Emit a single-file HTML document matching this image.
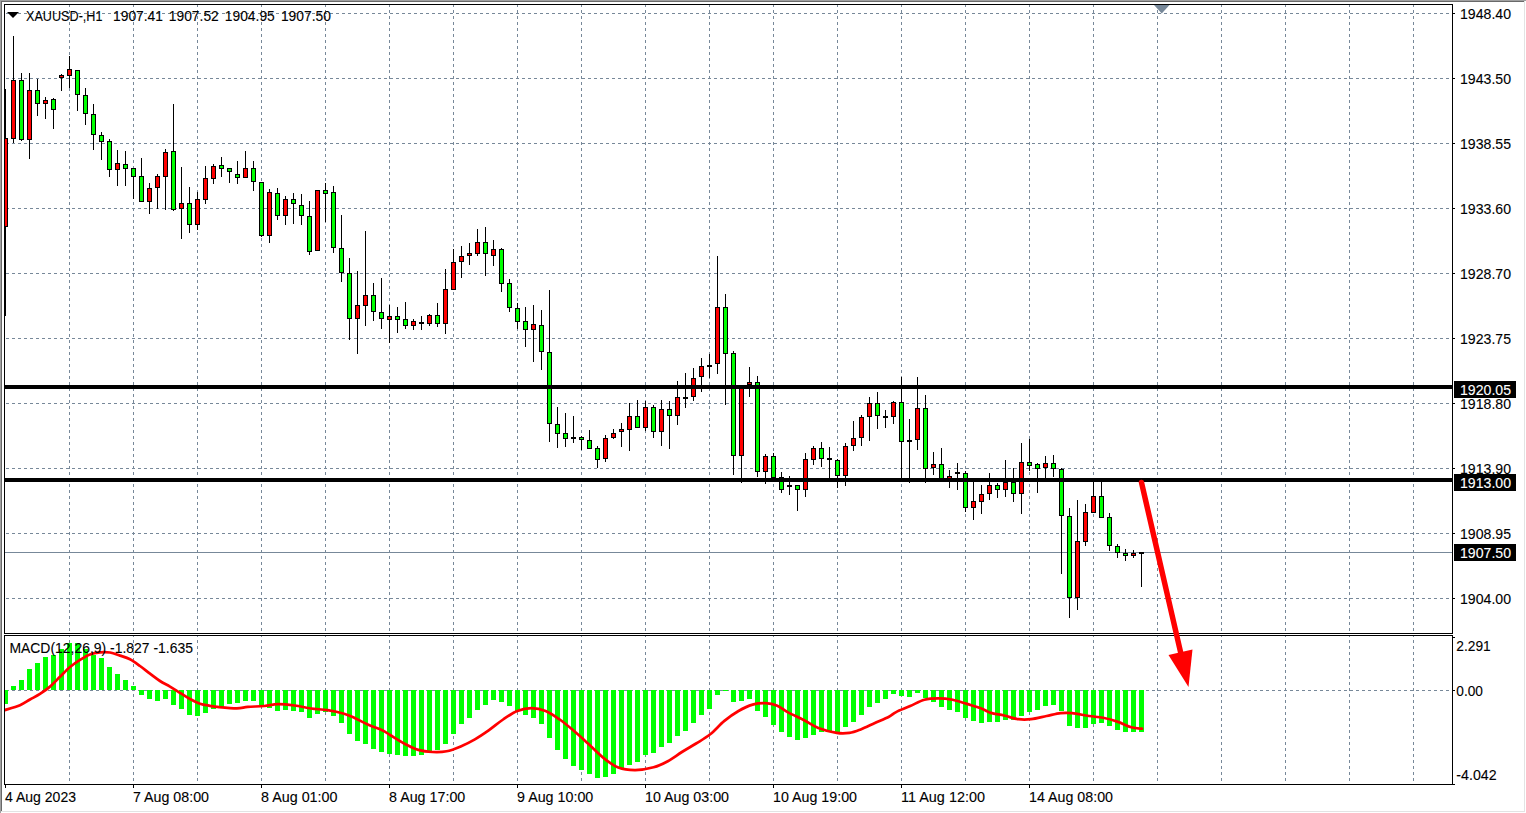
<!DOCTYPE html><html><head><meta charset="utf-8"><style>html,body{margin:0;padding:0;background:#fff;overflow:hidden}svg{display:block}text{font-family:"Liberation Sans",sans-serif}</style></head><body>
<svg width="1526" height="813" viewBox="0 0 1526 813">
<rect x="0" y="0" width="1526" height="813" fill="#ffffff"/>
<g shape-rendering="crispEdges">
<rect x="0" y="0" width="1526" height="1" fill="#a0a0a0"/>
<rect x="0" y="0" width="1" height="813" fill="#a0a0a0"/>
<rect x="1" y="1" width="1524" height="1" fill="#696969"/>
<rect x="1" y="1" width="1" height="811" fill="#696969"/>
<rect x="1524" y="1" width="1" height="811" fill="#e3e3e3"/>
<rect x="1" y="811" width="1524" height="1" fill="#e3e3e3"/>
<path d="M6 13h3v1h-3zM12 13h3v1h-3zM18 13h3v1h-3zM24 13h3v1h-3zM30 13h3v1h-3zM36 13h3v1h-3zM42 13h3v1h-3zM48 13h3v1h-3zM54 13h3v1h-3zM60 13h3v1h-3zM66 13h3v1h-3zM72 13h3v1h-3zM78 13h3v1h-3zM84 13h3v1h-3zM90 13h3v1h-3zM96 13h3v1h-3zM102 13h3v1h-3zM108 13h3v1h-3zM114 13h3v1h-3zM120 13h3v1h-3zM126 13h3v1h-3zM132 13h3v1h-3zM138 13h3v1h-3zM144 13h3v1h-3zM150 13h3v1h-3zM156 13h3v1h-3zM162 13h3v1h-3zM168 13h3v1h-3zM174 13h3v1h-3zM180 13h3v1h-3zM186 13h3v1h-3zM192 13h3v1h-3zM198 13h3v1h-3zM204 13h3v1h-3zM210 13h3v1h-3zM216 13h3v1h-3zM222 13h3v1h-3zM228 13h3v1h-3zM234 13h3v1h-3zM240 13h3v1h-3zM246 13h3v1h-3zM252 13h3v1h-3zM258 13h3v1h-3zM264 13h3v1h-3zM270 13h3v1h-3zM276 13h3v1h-3zM282 13h3v1h-3zM288 13h3v1h-3zM294 13h3v1h-3zM300 13h3v1h-3zM306 13h3v1h-3zM312 13h3v1h-3zM318 13h3v1h-3zM324 13h3v1h-3zM330 13h3v1h-3zM336 13h3v1h-3zM342 13h3v1h-3zM348 13h3v1h-3zM354 13h3v1h-3zM360 13h3v1h-3zM366 13h3v1h-3zM372 13h3v1h-3zM378 13h3v1h-3zM384 13h3v1h-3zM390 13h3v1h-3zM396 13h3v1h-3zM402 13h3v1h-3zM408 13h3v1h-3zM414 13h3v1h-3zM420 13h3v1h-3zM426 13h3v1h-3zM432 13h3v1h-3zM438 13h3v1h-3zM444 13h3v1h-3zM450 13h3v1h-3zM456 13h3v1h-3zM462 13h3v1h-3zM468 13h3v1h-3zM474 13h3v1h-3zM480 13h3v1h-3zM486 13h3v1h-3zM492 13h3v1h-3zM498 13h3v1h-3zM504 13h3v1h-3zM510 13h3v1h-3zM516 13h3v1h-3zM522 13h3v1h-3zM528 13h3v1h-3zM534 13h3v1h-3zM540 13h3v1h-3zM546 13h3v1h-3zM552 13h3v1h-3zM558 13h3v1h-3zM564 13h3v1h-3zM570 13h3v1h-3zM576 13h3v1h-3zM582 13h3v1h-3zM588 13h3v1h-3zM594 13h3v1h-3zM600 13h3v1h-3zM606 13h3v1h-3zM612 13h3v1h-3zM618 13h3v1h-3zM624 13h3v1h-3zM630 13h3v1h-3zM636 13h3v1h-3zM642 13h3v1h-3zM648 13h3v1h-3zM654 13h3v1h-3zM660 13h3v1h-3zM666 13h3v1h-3zM672 13h3v1h-3zM678 13h3v1h-3zM684 13h3v1h-3zM690 13h3v1h-3zM696 13h3v1h-3zM702 13h3v1h-3zM708 13h3v1h-3zM714 13h3v1h-3zM720 13h3v1h-3zM726 13h3v1h-3zM732 13h3v1h-3zM738 13h3v1h-3zM744 13h3v1h-3zM750 13h3v1h-3zM756 13h3v1h-3zM762 13h3v1h-3zM768 13h3v1h-3zM774 13h3v1h-3zM780 13h3v1h-3zM786 13h3v1h-3zM792 13h3v1h-3zM798 13h3v1h-3zM804 13h3v1h-3zM810 13h3v1h-3zM816 13h3v1h-3zM822 13h3v1h-3zM828 13h3v1h-3zM834 13h3v1h-3zM840 13h3v1h-3zM846 13h3v1h-3zM852 13h3v1h-3zM858 13h3v1h-3zM864 13h3v1h-3zM870 13h3v1h-3zM876 13h3v1h-3zM882 13h3v1h-3zM888 13h3v1h-3zM894 13h3v1h-3zM900 13h3v1h-3zM906 13h3v1h-3zM912 13h3v1h-3zM918 13h3v1h-3zM924 13h3v1h-3zM930 13h3v1h-3zM936 13h3v1h-3zM942 13h3v1h-3zM948 13h3v1h-3zM954 13h3v1h-3zM960 13h3v1h-3zM966 13h3v1h-3zM972 13h3v1h-3zM978 13h3v1h-3zM984 13h3v1h-3zM990 13h3v1h-3zM996 13h3v1h-3zM1002 13h3v1h-3zM1008 13h3v1h-3zM1014 13h3v1h-3zM1020 13h3v1h-3zM1026 13h3v1h-3zM1032 13h3v1h-3zM1038 13h3v1h-3zM1044 13h3v1h-3zM1050 13h3v1h-3zM1056 13h3v1h-3zM1062 13h3v1h-3zM1068 13h3v1h-3zM1074 13h3v1h-3zM1080 13h3v1h-3zM1086 13h3v1h-3zM1092 13h3v1h-3zM1098 13h3v1h-3zM1104 13h3v1h-3zM1110 13h3v1h-3zM1116 13h3v1h-3zM1122 13h3v1h-3zM1128 13h3v1h-3zM1134 13h3v1h-3zM1140 13h3v1h-3zM1146 13h3v1h-3zM1152 13h3v1h-3zM1158 13h3v1h-3zM1164 13h3v1h-3zM1170 13h3v1h-3zM1176 13h3v1h-3zM1182 13h3v1h-3zM1188 13h3v1h-3zM1194 13h3v1h-3zM1200 13h3v1h-3zM1206 13h3v1h-3zM1212 13h3v1h-3zM1218 13h3v1h-3zM1224 13h3v1h-3zM1230 13h3v1h-3zM1236 13h3v1h-3zM1242 13h3v1h-3zM1248 13h3v1h-3zM1254 13h3v1h-3zM1260 13h3v1h-3zM1266 13h3v1h-3zM1272 13h3v1h-3zM1278 13h3v1h-3zM1284 13h3v1h-3zM1290 13h3v1h-3zM1296 13h3v1h-3zM1302 13h3v1h-3zM1308 13h3v1h-3zM1314 13h3v1h-3zM1320 13h3v1h-3zM1326 13h3v1h-3zM1332 13h3v1h-3zM1338 13h3v1h-3zM1344 13h3v1h-3zM1350 13h3v1h-3zM1356 13h3v1h-3zM1362 13h3v1h-3zM1368 13h3v1h-3zM1374 13h3v1h-3zM1380 13h3v1h-3zM1386 13h3v1h-3zM1392 13h3v1h-3zM1398 13h3v1h-3zM1404 13h3v1h-3zM1410 13h3v1h-3zM1416 13h3v1h-3zM1422 13h3v1h-3zM1428 13h3v1h-3zM1434 13h3v1h-3zM1440 13h3v1h-3zM1446 13h3v1h-3zM6 78h3v1h-3zM12 78h3v1h-3zM18 78h3v1h-3zM24 78h3v1h-3zM30 78h3v1h-3zM36 78h3v1h-3zM42 78h3v1h-3zM48 78h3v1h-3zM54 78h3v1h-3zM60 78h3v1h-3zM66 78h3v1h-3zM72 78h3v1h-3zM78 78h3v1h-3zM84 78h3v1h-3zM90 78h3v1h-3zM96 78h3v1h-3zM102 78h3v1h-3zM108 78h3v1h-3zM114 78h3v1h-3zM120 78h3v1h-3zM126 78h3v1h-3zM132 78h3v1h-3zM138 78h3v1h-3zM144 78h3v1h-3zM150 78h3v1h-3zM156 78h3v1h-3zM162 78h3v1h-3zM168 78h3v1h-3zM174 78h3v1h-3zM180 78h3v1h-3zM186 78h3v1h-3zM192 78h3v1h-3zM198 78h3v1h-3zM204 78h3v1h-3zM210 78h3v1h-3zM216 78h3v1h-3zM222 78h3v1h-3zM228 78h3v1h-3zM234 78h3v1h-3zM240 78h3v1h-3zM246 78h3v1h-3zM252 78h3v1h-3zM258 78h3v1h-3zM264 78h3v1h-3zM270 78h3v1h-3zM276 78h3v1h-3zM282 78h3v1h-3zM288 78h3v1h-3zM294 78h3v1h-3zM300 78h3v1h-3zM306 78h3v1h-3zM312 78h3v1h-3zM318 78h3v1h-3zM324 78h3v1h-3zM330 78h3v1h-3zM336 78h3v1h-3zM342 78h3v1h-3zM348 78h3v1h-3zM354 78h3v1h-3zM360 78h3v1h-3zM366 78h3v1h-3zM372 78h3v1h-3zM378 78h3v1h-3zM384 78h3v1h-3zM390 78h3v1h-3zM396 78h3v1h-3zM402 78h3v1h-3zM408 78h3v1h-3zM414 78h3v1h-3zM420 78h3v1h-3zM426 78h3v1h-3zM432 78h3v1h-3zM438 78h3v1h-3zM444 78h3v1h-3zM450 78h3v1h-3zM456 78h3v1h-3zM462 78h3v1h-3zM468 78h3v1h-3zM474 78h3v1h-3zM480 78h3v1h-3zM486 78h3v1h-3zM492 78h3v1h-3zM498 78h3v1h-3zM504 78h3v1h-3zM510 78h3v1h-3zM516 78h3v1h-3zM522 78h3v1h-3zM528 78h3v1h-3zM534 78h3v1h-3zM540 78h3v1h-3zM546 78h3v1h-3zM552 78h3v1h-3zM558 78h3v1h-3zM564 78h3v1h-3zM570 78h3v1h-3zM576 78h3v1h-3zM582 78h3v1h-3zM588 78h3v1h-3zM594 78h3v1h-3zM600 78h3v1h-3zM606 78h3v1h-3zM612 78h3v1h-3zM618 78h3v1h-3zM624 78h3v1h-3zM630 78h3v1h-3zM636 78h3v1h-3zM642 78h3v1h-3zM648 78h3v1h-3zM654 78h3v1h-3zM660 78h3v1h-3zM666 78h3v1h-3zM672 78h3v1h-3zM678 78h3v1h-3zM684 78h3v1h-3zM690 78h3v1h-3zM696 78h3v1h-3zM702 78h3v1h-3zM708 78h3v1h-3zM714 78h3v1h-3zM720 78h3v1h-3zM726 78h3v1h-3zM732 78h3v1h-3zM738 78h3v1h-3zM744 78h3v1h-3zM750 78h3v1h-3zM756 78h3v1h-3zM762 78h3v1h-3zM768 78h3v1h-3zM774 78h3v1h-3zM780 78h3v1h-3zM786 78h3v1h-3zM792 78h3v1h-3zM798 78h3v1h-3zM804 78h3v1h-3zM810 78h3v1h-3zM816 78h3v1h-3zM822 78h3v1h-3zM828 78h3v1h-3zM834 78h3v1h-3zM840 78h3v1h-3zM846 78h3v1h-3zM852 78h3v1h-3zM858 78h3v1h-3zM864 78h3v1h-3zM870 78h3v1h-3zM876 78h3v1h-3zM882 78h3v1h-3zM888 78h3v1h-3zM894 78h3v1h-3zM900 78h3v1h-3zM906 78h3v1h-3zM912 78h3v1h-3zM918 78h3v1h-3zM924 78h3v1h-3zM930 78h3v1h-3zM936 78h3v1h-3zM942 78h3v1h-3zM948 78h3v1h-3zM954 78h3v1h-3zM960 78h3v1h-3zM966 78h3v1h-3zM972 78h3v1h-3zM978 78h3v1h-3zM984 78h3v1h-3zM990 78h3v1h-3zM996 78h3v1h-3zM1002 78h3v1h-3zM1008 78h3v1h-3zM1014 78h3v1h-3zM1020 78h3v1h-3zM1026 78h3v1h-3zM1032 78h3v1h-3zM1038 78h3v1h-3zM1044 78h3v1h-3zM1050 78h3v1h-3zM1056 78h3v1h-3zM1062 78h3v1h-3zM1068 78h3v1h-3zM1074 78h3v1h-3zM1080 78h3v1h-3zM1086 78h3v1h-3zM1092 78h3v1h-3zM1098 78h3v1h-3zM1104 78h3v1h-3zM1110 78h3v1h-3zM1116 78h3v1h-3zM1122 78h3v1h-3zM1128 78h3v1h-3zM1134 78h3v1h-3zM1140 78h3v1h-3zM1146 78h3v1h-3zM1152 78h3v1h-3zM1158 78h3v1h-3zM1164 78h3v1h-3zM1170 78h3v1h-3zM1176 78h3v1h-3zM1182 78h3v1h-3zM1188 78h3v1h-3zM1194 78h3v1h-3zM1200 78h3v1h-3zM1206 78h3v1h-3zM1212 78h3v1h-3zM1218 78h3v1h-3zM1224 78h3v1h-3zM1230 78h3v1h-3zM1236 78h3v1h-3zM1242 78h3v1h-3zM1248 78h3v1h-3zM1254 78h3v1h-3zM1260 78h3v1h-3zM1266 78h3v1h-3zM1272 78h3v1h-3zM1278 78h3v1h-3zM1284 78h3v1h-3zM1290 78h3v1h-3zM1296 78h3v1h-3zM1302 78h3v1h-3zM1308 78h3v1h-3zM1314 78h3v1h-3zM1320 78h3v1h-3zM1326 78h3v1h-3zM1332 78h3v1h-3zM1338 78h3v1h-3zM1344 78h3v1h-3zM1350 78h3v1h-3zM1356 78h3v1h-3zM1362 78h3v1h-3zM1368 78h3v1h-3zM1374 78h3v1h-3zM1380 78h3v1h-3zM1386 78h3v1h-3zM1392 78h3v1h-3zM1398 78h3v1h-3zM1404 78h3v1h-3zM1410 78h3v1h-3zM1416 78h3v1h-3zM1422 78h3v1h-3zM1428 78h3v1h-3zM1434 78h3v1h-3zM1440 78h3v1h-3zM1446 78h3v1h-3zM6 143h3v1h-3zM12 143h3v1h-3zM18 143h3v1h-3zM24 143h3v1h-3zM30 143h3v1h-3zM36 143h3v1h-3zM42 143h3v1h-3zM48 143h3v1h-3zM54 143h3v1h-3zM60 143h3v1h-3zM66 143h3v1h-3zM72 143h3v1h-3zM78 143h3v1h-3zM84 143h3v1h-3zM90 143h3v1h-3zM96 143h3v1h-3zM102 143h3v1h-3zM108 143h3v1h-3zM114 143h3v1h-3zM120 143h3v1h-3zM126 143h3v1h-3zM132 143h3v1h-3zM138 143h3v1h-3zM144 143h3v1h-3zM150 143h3v1h-3zM156 143h3v1h-3zM162 143h3v1h-3zM168 143h3v1h-3zM174 143h3v1h-3zM180 143h3v1h-3zM186 143h3v1h-3zM192 143h3v1h-3zM198 143h3v1h-3zM204 143h3v1h-3zM210 143h3v1h-3zM216 143h3v1h-3zM222 143h3v1h-3zM228 143h3v1h-3zM234 143h3v1h-3zM240 143h3v1h-3zM246 143h3v1h-3zM252 143h3v1h-3zM258 143h3v1h-3zM264 143h3v1h-3zM270 143h3v1h-3zM276 143h3v1h-3zM282 143h3v1h-3zM288 143h3v1h-3zM294 143h3v1h-3zM300 143h3v1h-3zM306 143h3v1h-3zM312 143h3v1h-3zM318 143h3v1h-3zM324 143h3v1h-3zM330 143h3v1h-3zM336 143h3v1h-3zM342 143h3v1h-3zM348 143h3v1h-3zM354 143h3v1h-3zM360 143h3v1h-3zM366 143h3v1h-3zM372 143h3v1h-3zM378 143h3v1h-3zM384 143h3v1h-3zM390 143h3v1h-3zM396 143h3v1h-3zM402 143h3v1h-3zM408 143h3v1h-3zM414 143h3v1h-3zM420 143h3v1h-3zM426 143h3v1h-3zM432 143h3v1h-3zM438 143h3v1h-3zM444 143h3v1h-3zM450 143h3v1h-3zM456 143h3v1h-3zM462 143h3v1h-3zM468 143h3v1h-3zM474 143h3v1h-3zM480 143h3v1h-3zM486 143h3v1h-3zM492 143h3v1h-3zM498 143h3v1h-3zM504 143h3v1h-3zM510 143h3v1h-3zM516 143h3v1h-3zM522 143h3v1h-3zM528 143h3v1h-3zM534 143h3v1h-3zM540 143h3v1h-3zM546 143h3v1h-3zM552 143h3v1h-3zM558 143h3v1h-3zM564 143h3v1h-3zM570 143h3v1h-3zM576 143h3v1h-3zM582 143h3v1h-3zM588 143h3v1h-3zM594 143h3v1h-3zM600 143h3v1h-3zM606 143h3v1h-3zM612 143h3v1h-3zM618 143h3v1h-3zM624 143h3v1h-3zM630 143h3v1h-3zM636 143h3v1h-3zM642 143h3v1h-3zM648 143h3v1h-3zM654 143h3v1h-3zM660 143h3v1h-3zM666 143h3v1h-3zM672 143h3v1h-3zM678 143h3v1h-3zM684 143h3v1h-3zM690 143h3v1h-3zM696 143h3v1h-3zM702 143h3v1h-3zM708 143h3v1h-3zM714 143h3v1h-3zM720 143h3v1h-3zM726 143h3v1h-3zM732 143h3v1h-3zM738 143h3v1h-3zM744 143h3v1h-3zM750 143h3v1h-3zM756 143h3v1h-3zM762 143h3v1h-3zM768 143h3v1h-3zM774 143h3v1h-3zM780 143h3v1h-3zM786 143h3v1h-3zM792 143h3v1h-3zM798 143h3v1h-3zM804 143h3v1h-3zM810 143h3v1h-3zM816 143h3v1h-3zM822 143h3v1h-3zM828 143h3v1h-3zM834 143h3v1h-3zM840 143h3v1h-3zM846 143h3v1h-3zM852 143h3v1h-3zM858 143h3v1h-3zM864 143h3v1h-3zM870 143h3v1h-3zM876 143h3v1h-3zM882 143h3v1h-3zM888 143h3v1h-3zM894 143h3v1h-3zM900 143h3v1h-3zM906 143h3v1h-3zM912 143h3v1h-3zM918 143h3v1h-3zM924 143h3v1h-3zM930 143h3v1h-3zM936 143h3v1h-3zM942 143h3v1h-3zM948 143h3v1h-3zM954 143h3v1h-3zM960 143h3v1h-3zM966 143h3v1h-3zM972 143h3v1h-3zM978 143h3v1h-3zM984 143h3v1h-3zM990 143h3v1h-3zM996 143h3v1h-3zM1002 143h3v1h-3zM1008 143h3v1h-3zM1014 143h3v1h-3zM1020 143h3v1h-3zM1026 143h3v1h-3zM1032 143h3v1h-3zM1038 143h3v1h-3zM1044 143h3v1h-3zM1050 143h3v1h-3zM1056 143h3v1h-3zM1062 143h3v1h-3zM1068 143h3v1h-3zM1074 143h3v1h-3zM1080 143h3v1h-3zM1086 143h3v1h-3zM1092 143h3v1h-3zM1098 143h3v1h-3zM1104 143h3v1h-3zM1110 143h3v1h-3zM1116 143h3v1h-3zM1122 143h3v1h-3zM1128 143h3v1h-3zM1134 143h3v1h-3zM1140 143h3v1h-3zM1146 143h3v1h-3zM1152 143h3v1h-3zM1158 143h3v1h-3zM1164 143h3v1h-3zM1170 143h3v1h-3zM1176 143h3v1h-3zM1182 143h3v1h-3zM1188 143h3v1h-3zM1194 143h3v1h-3zM1200 143h3v1h-3zM1206 143h3v1h-3zM1212 143h3v1h-3zM1218 143h3v1h-3zM1224 143h3v1h-3zM1230 143h3v1h-3zM1236 143h3v1h-3zM1242 143h3v1h-3zM1248 143h3v1h-3zM1254 143h3v1h-3zM1260 143h3v1h-3zM1266 143h3v1h-3zM1272 143h3v1h-3zM1278 143h3v1h-3zM1284 143h3v1h-3zM1290 143h3v1h-3zM1296 143h3v1h-3zM1302 143h3v1h-3zM1308 143h3v1h-3zM1314 143h3v1h-3zM1320 143h3v1h-3zM1326 143h3v1h-3zM1332 143h3v1h-3zM1338 143h3v1h-3zM1344 143h3v1h-3zM1350 143h3v1h-3zM1356 143h3v1h-3zM1362 143h3v1h-3zM1368 143h3v1h-3zM1374 143h3v1h-3zM1380 143h3v1h-3zM1386 143h3v1h-3zM1392 143h3v1h-3zM1398 143h3v1h-3zM1404 143h3v1h-3zM1410 143h3v1h-3zM1416 143h3v1h-3zM1422 143h3v1h-3zM1428 143h3v1h-3zM1434 143h3v1h-3zM1440 143h3v1h-3zM1446 143h3v1h-3zM6 208h3v1h-3zM12 208h3v1h-3zM18 208h3v1h-3zM24 208h3v1h-3zM30 208h3v1h-3zM36 208h3v1h-3zM42 208h3v1h-3zM48 208h3v1h-3zM54 208h3v1h-3zM60 208h3v1h-3zM66 208h3v1h-3zM72 208h3v1h-3zM78 208h3v1h-3zM84 208h3v1h-3zM90 208h3v1h-3zM96 208h3v1h-3zM102 208h3v1h-3zM108 208h3v1h-3zM114 208h3v1h-3zM120 208h3v1h-3zM126 208h3v1h-3zM132 208h3v1h-3zM138 208h3v1h-3zM144 208h3v1h-3zM150 208h3v1h-3zM156 208h3v1h-3zM162 208h3v1h-3zM168 208h3v1h-3zM174 208h3v1h-3zM180 208h3v1h-3zM186 208h3v1h-3zM192 208h3v1h-3zM198 208h3v1h-3zM204 208h3v1h-3zM210 208h3v1h-3zM216 208h3v1h-3zM222 208h3v1h-3zM228 208h3v1h-3zM234 208h3v1h-3zM240 208h3v1h-3zM246 208h3v1h-3zM252 208h3v1h-3zM258 208h3v1h-3zM264 208h3v1h-3zM270 208h3v1h-3zM276 208h3v1h-3zM282 208h3v1h-3zM288 208h3v1h-3zM294 208h3v1h-3zM300 208h3v1h-3zM306 208h3v1h-3zM312 208h3v1h-3zM318 208h3v1h-3zM324 208h3v1h-3zM330 208h3v1h-3zM336 208h3v1h-3zM342 208h3v1h-3zM348 208h3v1h-3zM354 208h3v1h-3zM360 208h3v1h-3zM366 208h3v1h-3zM372 208h3v1h-3zM378 208h3v1h-3zM384 208h3v1h-3zM390 208h3v1h-3zM396 208h3v1h-3zM402 208h3v1h-3zM408 208h3v1h-3zM414 208h3v1h-3zM420 208h3v1h-3zM426 208h3v1h-3zM432 208h3v1h-3zM438 208h3v1h-3zM444 208h3v1h-3zM450 208h3v1h-3zM456 208h3v1h-3zM462 208h3v1h-3zM468 208h3v1h-3zM474 208h3v1h-3zM480 208h3v1h-3zM486 208h3v1h-3zM492 208h3v1h-3zM498 208h3v1h-3zM504 208h3v1h-3zM510 208h3v1h-3zM516 208h3v1h-3zM522 208h3v1h-3zM528 208h3v1h-3zM534 208h3v1h-3zM540 208h3v1h-3zM546 208h3v1h-3zM552 208h3v1h-3zM558 208h3v1h-3zM564 208h3v1h-3zM570 208h3v1h-3zM576 208h3v1h-3zM582 208h3v1h-3zM588 208h3v1h-3zM594 208h3v1h-3zM600 208h3v1h-3zM606 208h3v1h-3zM612 208h3v1h-3zM618 208h3v1h-3zM624 208h3v1h-3zM630 208h3v1h-3zM636 208h3v1h-3zM642 208h3v1h-3zM648 208h3v1h-3zM654 208h3v1h-3zM660 208h3v1h-3zM666 208h3v1h-3zM672 208h3v1h-3zM678 208h3v1h-3zM684 208h3v1h-3zM690 208h3v1h-3zM696 208h3v1h-3zM702 208h3v1h-3zM708 208h3v1h-3zM714 208h3v1h-3zM720 208h3v1h-3zM726 208h3v1h-3zM732 208h3v1h-3zM738 208h3v1h-3zM744 208h3v1h-3zM750 208h3v1h-3zM756 208h3v1h-3zM762 208h3v1h-3zM768 208h3v1h-3zM774 208h3v1h-3zM780 208h3v1h-3zM786 208h3v1h-3zM792 208h3v1h-3zM798 208h3v1h-3zM804 208h3v1h-3zM810 208h3v1h-3zM816 208h3v1h-3zM822 208h3v1h-3zM828 208h3v1h-3zM834 208h3v1h-3zM840 208h3v1h-3zM846 208h3v1h-3zM852 208h3v1h-3zM858 208h3v1h-3zM864 208h3v1h-3zM870 208h3v1h-3zM876 208h3v1h-3zM882 208h3v1h-3zM888 208h3v1h-3zM894 208h3v1h-3zM900 208h3v1h-3zM906 208h3v1h-3zM912 208h3v1h-3zM918 208h3v1h-3zM924 208h3v1h-3zM930 208h3v1h-3zM936 208h3v1h-3zM942 208h3v1h-3zM948 208h3v1h-3zM954 208h3v1h-3zM960 208h3v1h-3zM966 208h3v1h-3zM972 208h3v1h-3zM978 208h3v1h-3zM984 208h3v1h-3zM990 208h3v1h-3zM996 208h3v1h-3zM1002 208h3v1h-3zM1008 208h3v1h-3zM1014 208h3v1h-3zM1020 208h3v1h-3zM1026 208h3v1h-3zM1032 208h3v1h-3zM1038 208h3v1h-3zM1044 208h3v1h-3zM1050 208h3v1h-3zM1056 208h3v1h-3zM1062 208h3v1h-3zM1068 208h3v1h-3zM1074 208h3v1h-3zM1080 208h3v1h-3zM1086 208h3v1h-3zM1092 208h3v1h-3zM1098 208h3v1h-3zM1104 208h3v1h-3zM1110 208h3v1h-3zM1116 208h3v1h-3zM1122 208h3v1h-3zM1128 208h3v1h-3zM1134 208h3v1h-3zM1140 208h3v1h-3zM1146 208h3v1h-3zM1152 208h3v1h-3zM1158 208h3v1h-3zM1164 208h3v1h-3zM1170 208h3v1h-3zM1176 208h3v1h-3zM1182 208h3v1h-3zM1188 208h3v1h-3zM1194 208h3v1h-3zM1200 208h3v1h-3zM1206 208h3v1h-3zM1212 208h3v1h-3zM1218 208h3v1h-3zM1224 208h3v1h-3zM1230 208h3v1h-3zM1236 208h3v1h-3zM1242 208h3v1h-3zM1248 208h3v1h-3zM1254 208h3v1h-3zM1260 208h3v1h-3zM1266 208h3v1h-3zM1272 208h3v1h-3zM1278 208h3v1h-3zM1284 208h3v1h-3zM1290 208h3v1h-3zM1296 208h3v1h-3zM1302 208h3v1h-3zM1308 208h3v1h-3zM1314 208h3v1h-3zM1320 208h3v1h-3zM1326 208h3v1h-3zM1332 208h3v1h-3zM1338 208h3v1h-3zM1344 208h3v1h-3zM1350 208h3v1h-3zM1356 208h3v1h-3zM1362 208h3v1h-3zM1368 208h3v1h-3zM1374 208h3v1h-3zM1380 208h3v1h-3zM1386 208h3v1h-3zM1392 208h3v1h-3zM1398 208h3v1h-3zM1404 208h3v1h-3zM1410 208h3v1h-3zM1416 208h3v1h-3zM1422 208h3v1h-3zM1428 208h3v1h-3zM1434 208h3v1h-3zM1440 208h3v1h-3zM1446 208h3v1h-3zM6 273h3v1h-3zM12 273h3v1h-3zM18 273h3v1h-3zM24 273h3v1h-3zM30 273h3v1h-3zM36 273h3v1h-3zM42 273h3v1h-3zM48 273h3v1h-3zM54 273h3v1h-3zM60 273h3v1h-3zM66 273h3v1h-3zM72 273h3v1h-3zM78 273h3v1h-3zM84 273h3v1h-3zM90 273h3v1h-3zM96 273h3v1h-3zM102 273h3v1h-3zM108 273h3v1h-3zM114 273h3v1h-3zM120 273h3v1h-3zM126 273h3v1h-3zM132 273h3v1h-3zM138 273h3v1h-3zM144 273h3v1h-3zM150 273h3v1h-3zM156 273h3v1h-3zM162 273h3v1h-3zM168 273h3v1h-3zM174 273h3v1h-3zM180 273h3v1h-3zM186 273h3v1h-3zM192 273h3v1h-3zM198 273h3v1h-3zM204 273h3v1h-3zM210 273h3v1h-3zM216 273h3v1h-3zM222 273h3v1h-3zM228 273h3v1h-3zM234 273h3v1h-3zM240 273h3v1h-3zM246 273h3v1h-3zM252 273h3v1h-3zM258 273h3v1h-3zM264 273h3v1h-3zM270 273h3v1h-3zM276 273h3v1h-3zM282 273h3v1h-3zM288 273h3v1h-3zM294 273h3v1h-3zM300 273h3v1h-3zM306 273h3v1h-3zM312 273h3v1h-3zM318 273h3v1h-3zM324 273h3v1h-3zM330 273h3v1h-3zM336 273h3v1h-3zM342 273h3v1h-3zM348 273h3v1h-3zM354 273h3v1h-3zM360 273h3v1h-3zM366 273h3v1h-3zM372 273h3v1h-3zM378 273h3v1h-3zM384 273h3v1h-3zM390 273h3v1h-3zM396 273h3v1h-3zM402 273h3v1h-3zM408 273h3v1h-3zM414 273h3v1h-3zM420 273h3v1h-3zM426 273h3v1h-3zM432 273h3v1h-3zM438 273h3v1h-3zM444 273h3v1h-3zM450 273h3v1h-3zM456 273h3v1h-3zM462 273h3v1h-3zM468 273h3v1h-3zM474 273h3v1h-3zM480 273h3v1h-3zM486 273h3v1h-3zM492 273h3v1h-3zM498 273h3v1h-3zM504 273h3v1h-3zM510 273h3v1h-3zM516 273h3v1h-3zM522 273h3v1h-3zM528 273h3v1h-3zM534 273h3v1h-3zM540 273h3v1h-3zM546 273h3v1h-3zM552 273h3v1h-3zM558 273h3v1h-3zM564 273h3v1h-3zM570 273h3v1h-3zM576 273h3v1h-3zM582 273h3v1h-3zM588 273h3v1h-3zM594 273h3v1h-3zM600 273h3v1h-3zM606 273h3v1h-3zM612 273h3v1h-3zM618 273h3v1h-3zM624 273h3v1h-3zM630 273h3v1h-3zM636 273h3v1h-3zM642 273h3v1h-3zM648 273h3v1h-3zM654 273h3v1h-3zM660 273h3v1h-3zM666 273h3v1h-3zM672 273h3v1h-3zM678 273h3v1h-3zM684 273h3v1h-3zM690 273h3v1h-3zM696 273h3v1h-3zM702 273h3v1h-3zM708 273h3v1h-3zM714 273h3v1h-3zM720 273h3v1h-3zM726 273h3v1h-3zM732 273h3v1h-3zM738 273h3v1h-3zM744 273h3v1h-3zM750 273h3v1h-3zM756 273h3v1h-3zM762 273h3v1h-3zM768 273h3v1h-3zM774 273h3v1h-3zM780 273h3v1h-3zM786 273h3v1h-3zM792 273h3v1h-3zM798 273h3v1h-3zM804 273h3v1h-3zM810 273h3v1h-3zM816 273h3v1h-3zM822 273h3v1h-3zM828 273h3v1h-3zM834 273h3v1h-3zM840 273h3v1h-3zM846 273h3v1h-3zM852 273h3v1h-3zM858 273h3v1h-3zM864 273h3v1h-3zM870 273h3v1h-3zM876 273h3v1h-3zM882 273h3v1h-3zM888 273h3v1h-3zM894 273h3v1h-3zM900 273h3v1h-3zM906 273h3v1h-3zM912 273h3v1h-3zM918 273h3v1h-3zM924 273h3v1h-3zM930 273h3v1h-3zM936 273h3v1h-3zM942 273h3v1h-3zM948 273h3v1h-3zM954 273h3v1h-3zM960 273h3v1h-3zM966 273h3v1h-3zM972 273h3v1h-3zM978 273h3v1h-3zM984 273h3v1h-3zM990 273h3v1h-3zM996 273h3v1h-3zM1002 273h3v1h-3zM1008 273h3v1h-3zM1014 273h3v1h-3zM1020 273h3v1h-3zM1026 273h3v1h-3zM1032 273h3v1h-3zM1038 273h3v1h-3zM1044 273h3v1h-3zM1050 273h3v1h-3zM1056 273h3v1h-3zM1062 273h3v1h-3zM1068 273h3v1h-3zM1074 273h3v1h-3zM1080 273h3v1h-3zM1086 273h3v1h-3zM1092 273h3v1h-3zM1098 273h3v1h-3zM1104 273h3v1h-3zM1110 273h3v1h-3zM1116 273h3v1h-3zM1122 273h3v1h-3zM1128 273h3v1h-3zM1134 273h3v1h-3zM1140 273h3v1h-3zM1146 273h3v1h-3zM1152 273h3v1h-3zM1158 273h3v1h-3zM1164 273h3v1h-3zM1170 273h3v1h-3zM1176 273h3v1h-3zM1182 273h3v1h-3zM1188 273h3v1h-3zM1194 273h3v1h-3zM1200 273h3v1h-3zM1206 273h3v1h-3zM1212 273h3v1h-3zM1218 273h3v1h-3zM1224 273h3v1h-3zM1230 273h3v1h-3zM1236 273h3v1h-3zM1242 273h3v1h-3zM1248 273h3v1h-3zM1254 273h3v1h-3zM1260 273h3v1h-3zM1266 273h3v1h-3zM1272 273h3v1h-3zM1278 273h3v1h-3zM1284 273h3v1h-3zM1290 273h3v1h-3zM1296 273h3v1h-3zM1302 273h3v1h-3zM1308 273h3v1h-3zM1314 273h3v1h-3zM1320 273h3v1h-3zM1326 273h3v1h-3zM1332 273h3v1h-3zM1338 273h3v1h-3zM1344 273h3v1h-3zM1350 273h3v1h-3zM1356 273h3v1h-3zM1362 273h3v1h-3zM1368 273h3v1h-3zM1374 273h3v1h-3zM1380 273h3v1h-3zM1386 273h3v1h-3zM1392 273h3v1h-3zM1398 273h3v1h-3zM1404 273h3v1h-3zM1410 273h3v1h-3zM1416 273h3v1h-3zM1422 273h3v1h-3zM1428 273h3v1h-3zM1434 273h3v1h-3zM1440 273h3v1h-3zM1446 273h3v1h-3zM6 338h3v1h-3zM12 338h3v1h-3zM18 338h3v1h-3zM24 338h3v1h-3zM30 338h3v1h-3zM36 338h3v1h-3zM42 338h3v1h-3zM48 338h3v1h-3zM54 338h3v1h-3zM60 338h3v1h-3zM66 338h3v1h-3zM72 338h3v1h-3zM78 338h3v1h-3zM84 338h3v1h-3zM90 338h3v1h-3zM96 338h3v1h-3zM102 338h3v1h-3zM108 338h3v1h-3zM114 338h3v1h-3zM120 338h3v1h-3zM126 338h3v1h-3zM132 338h3v1h-3zM138 338h3v1h-3zM144 338h3v1h-3zM150 338h3v1h-3zM156 338h3v1h-3zM162 338h3v1h-3zM168 338h3v1h-3zM174 338h3v1h-3zM180 338h3v1h-3zM186 338h3v1h-3zM192 338h3v1h-3zM198 338h3v1h-3zM204 338h3v1h-3zM210 338h3v1h-3zM216 338h3v1h-3zM222 338h3v1h-3zM228 338h3v1h-3zM234 338h3v1h-3zM240 338h3v1h-3zM246 338h3v1h-3zM252 338h3v1h-3zM258 338h3v1h-3zM264 338h3v1h-3zM270 338h3v1h-3zM276 338h3v1h-3zM282 338h3v1h-3zM288 338h3v1h-3zM294 338h3v1h-3zM300 338h3v1h-3zM306 338h3v1h-3zM312 338h3v1h-3zM318 338h3v1h-3zM324 338h3v1h-3zM330 338h3v1h-3zM336 338h3v1h-3zM342 338h3v1h-3zM348 338h3v1h-3zM354 338h3v1h-3zM360 338h3v1h-3zM366 338h3v1h-3zM372 338h3v1h-3zM378 338h3v1h-3zM384 338h3v1h-3zM390 338h3v1h-3zM396 338h3v1h-3zM402 338h3v1h-3zM408 338h3v1h-3zM414 338h3v1h-3zM420 338h3v1h-3zM426 338h3v1h-3zM432 338h3v1h-3zM438 338h3v1h-3zM444 338h3v1h-3zM450 338h3v1h-3zM456 338h3v1h-3zM462 338h3v1h-3zM468 338h3v1h-3zM474 338h3v1h-3zM480 338h3v1h-3zM486 338h3v1h-3zM492 338h3v1h-3zM498 338h3v1h-3zM504 338h3v1h-3zM510 338h3v1h-3zM516 338h3v1h-3zM522 338h3v1h-3zM528 338h3v1h-3zM534 338h3v1h-3zM540 338h3v1h-3zM546 338h3v1h-3zM552 338h3v1h-3zM558 338h3v1h-3zM564 338h3v1h-3zM570 338h3v1h-3zM576 338h3v1h-3zM582 338h3v1h-3zM588 338h3v1h-3zM594 338h3v1h-3zM600 338h3v1h-3zM606 338h3v1h-3zM612 338h3v1h-3zM618 338h3v1h-3zM624 338h3v1h-3zM630 338h3v1h-3zM636 338h3v1h-3zM642 338h3v1h-3zM648 338h3v1h-3zM654 338h3v1h-3zM660 338h3v1h-3zM666 338h3v1h-3zM672 338h3v1h-3zM678 338h3v1h-3zM684 338h3v1h-3zM690 338h3v1h-3zM696 338h3v1h-3zM702 338h3v1h-3zM708 338h3v1h-3zM714 338h3v1h-3zM720 338h3v1h-3zM726 338h3v1h-3zM732 338h3v1h-3zM738 338h3v1h-3zM744 338h3v1h-3zM750 338h3v1h-3zM756 338h3v1h-3zM762 338h3v1h-3zM768 338h3v1h-3zM774 338h3v1h-3zM780 338h3v1h-3zM786 338h3v1h-3zM792 338h3v1h-3zM798 338h3v1h-3zM804 338h3v1h-3zM810 338h3v1h-3zM816 338h3v1h-3zM822 338h3v1h-3zM828 338h3v1h-3zM834 338h3v1h-3zM840 338h3v1h-3zM846 338h3v1h-3zM852 338h3v1h-3zM858 338h3v1h-3zM864 338h3v1h-3zM870 338h3v1h-3zM876 338h3v1h-3zM882 338h3v1h-3zM888 338h3v1h-3zM894 338h3v1h-3zM900 338h3v1h-3zM906 338h3v1h-3zM912 338h3v1h-3zM918 338h3v1h-3zM924 338h3v1h-3zM930 338h3v1h-3zM936 338h3v1h-3zM942 338h3v1h-3zM948 338h3v1h-3zM954 338h3v1h-3zM960 338h3v1h-3zM966 338h3v1h-3zM972 338h3v1h-3zM978 338h3v1h-3zM984 338h3v1h-3zM990 338h3v1h-3zM996 338h3v1h-3zM1002 338h3v1h-3zM1008 338h3v1h-3zM1014 338h3v1h-3zM1020 338h3v1h-3zM1026 338h3v1h-3zM1032 338h3v1h-3zM1038 338h3v1h-3zM1044 338h3v1h-3zM1050 338h3v1h-3zM1056 338h3v1h-3zM1062 338h3v1h-3zM1068 338h3v1h-3zM1074 338h3v1h-3zM1080 338h3v1h-3zM1086 338h3v1h-3zM1092 338h3v1h-3zM1098 338h3v1h-3zM1104 338h3v1h-3zM1110 338h3v1h-3zM1116 338h3v1h-3zM1122 338h3v1h-3zM1128 338h3v1h-3zM1134 338h3v1h-3zM1140 338h3v1h-3zM1146 338h3v1h-3zM1152 338h3v1h-3zM1158 338h3v1h-3zM1164 338h3v1h-3zM1170 338h3v1h-3zM1176 338h3v1h-3zM1182 338h3v1h-3zM1188 338h3v1h-3zM1194 338h3v1h-3zM1200 338h3v1h-3zM1206 338h3v1h-3zM1212 338h3v1h-3zM1218 338h3v1h-3zM1224 338h3v1h-3zM1230 338h3v1h-3zM1236 338h3v1h-3zM1242 338h3v1h-3zM1248 338h3v1h-3zM1254 338h3v1h-3zM1260 338h3v1h-3zM1266 338h3v1h-3zM1272 338h3v1h-3zM1278 338h3v1h-3zM1284 338h3v1h-3zM1290 338h3v1h-3zM1296 338h3v1h-3zM1302 338h3v1h-3zM1308 338h3v1h-3zM1314 338h3v1h-3zM1320 338h3v1h-3zM1326 338h3v1h-3zM1332 338h3v1h-3zM1338 338h3v1h-3zM1344 338h3v1h-3zM1350 338h3v1h-3zM1356 338h3v1h-3zM1362 338h3v1h-3zM1368 338h3v1h-3zM1374 338h3v1h-3zM1380 338h3v1h-3zM1386 338h3v1h-3zM1392 338h3v1h-3zM1398 338h3v1h-3zM1404 338h3v1h-3zM1410 338h3v1h-3zM1416 338h3v1h-3zM1422 338h3v1h-3zM1428 338h3v1h-3zM1434 338h3v1h-3zM1440 338h3v1h-3zM1446 338h3v1h-3zM6 403h3v1h-3zM12 403h3v1h-3zM18 403h3v1h-3zM24 403h3v1h-3zM30 403h3v1h-3zM36 403h3v1h-3zM42 403h3v1h-3zM48 403h3v1h-3zM54 403h3v1h-3zM60 403h3v1h-3zM66 403h3v1h-3zM72 403h3v1h-3zM78 403h3v1h-3zM84 403h3v1h-3zM90 403h3v1h-3zM96 403h3v1h-3zM102 403h3v1h-3zM108 403h3v1h-3zM114 403h3v1h-3zM120 403h3v1h-3zM126 403h3v1h-3zM132 403h3v1h-3zM138 403h3v1h-3zM144 403h3v1h-3zM150 403h3v1h-3zM156 403h3v1h-3zM162 403h3v1h-3zM168 403h3v1h-3zM174 403h3v1h-3zM180 403h3v1h-3zM186 403h3v1h-3zM192 403h3v1h-3zM198 403h3v1h-3zM204 403h3v1h-3zM210 403h3v1h-3zM216 403h3v1h-3zM222 403h3v1h-3zM228 403h3v1h-3zM234 403h3v1h-3zM240 403h3v1h-3zM246 403h3v1h-3zM252 403h3v1h-3zM258 403h3v1h-3zM264 403h3v1h-3zM270 403h3v1h-3zM276 403h3v1h-3zM282 403h3v1h-3zM288 403h3v1h-3zM294 403h3v1h-3zM300 403h3v1h-3zM306 403h3v1h-3zM312 403h3v1h-3zM318 403h3v1h-3zM324 403h3v1h-3zM330 403h3v1h-3zM336 403h3v1h-3zM342 403h3v1h-3zM348 403h3v1h-3zM354 403h3v1h-3zM360 403h3v1h-3zM366 403h3v1h-3zM372 403h3v1h-3zM378 403h3v1h-3zM384 403h3v1h-3zM390 403h3v1h-3zM396 403h3v1h-3zM402 403h3v1h-3zM408 403h3v1h-3zM414 403h3v1h-3zM420 403h3v1h-3zM426 403h3v1h-3zM432 403h3v1h-3zM438 403h3v1h-3zM444 403h3v1h-3zM450 403h3v1h-3zM456 403h3v1h-3zM462 403h3v1h-3zM468 403h3v1h-3zM474 403h3v1h-3zM480 403h3v1h-3zM486 403h3v1h-3zM492 403h3v1h-3zM498 403h3v1h-3zM504 403h3v1h-3zM510 403h3v1h-3zM516 403h3v1h-3zM522 403h3v1h-3zM528 403h3v1h-3zM534 403h3v1h-3zM540 403h3v1h-3zM546 403h3v1h-3zM552 403h3v1h-3zM558 403h3v1h-3zM564 403h3v1h-3zM570 403h3v1h-3zM576 403h3v1h-3zM582 403h3v1h-3zM588 403h3v1h-3zM594 403h3v1h-3zM600 403h3v1h-3zM606 403h3v1h-3zM612 403h3v1h-3zM618 403h3v1h-3zM624 403h3v1h-3zM630 403h3v1h-3zM636 403h3v1h-3zM642 403h3v1h-3zM648 403h3v1h-3zM654 403h3v1h-3zM660 403h3v1h-3zM666 403h3v1h-3zM672 403h3v1h-3zM678 403h3v1h-3zM684 403h3v1h-3zM690 403h3v1h-3zM696 403h3v1h-3zM702 403h3v1h-3zM708 403h3v1h-3zM714 403h3v1h-3zM720 403h3v1h-3zM726 403h3v1h-3zM732 403h3v1h-3zM738 403h3v1h-3zM744 403h3v1h-3zM750 403h3v1h-3zM756 403h3v1h-3zM762 403h3v1h-3zM768 403h3v1h-3zM774 403h3v1h-3zM780 403h3v1h-3zM786 403h3v1h-3zM792 403h3v1h-3zM798 403h3v1h-3zM804 403h3v1h-3zM810 403h3v1h-3zM816 403h3v1h-3zM822 403h3v1h-3zM828 403h3v1h-3zM834 403h3v1h-3zM840 403h3v1h-3zM846 403h3v1h-3zM852 403h3v1h-3zM858 403h3v1h-3zM864 403h3v1h-3zM870 403h3v1h-3zM876 403h3v1h-3zM882 403h3v1h-3zM888 403h3v1h-3zM894 403h3v1h-3zM900 403h3v1h-3zM906 403h3v1h-3zM912 403h3v1h-3zM918 403h3v1h-3zM924 403h3v1h-3zM930 403h3v1h-3zM936 403h3v1h-3zM942 403h3v1h-3zM948 403h3v1h-3zM954 403h3v1h-3zM960 403h3v1h-3zM966 403h3v1h-3zM972 403h3v1h-3zM978 403h3v1h-3zM984 403h3v1h-3zM990 403h3v1h-3zM996 403h3v1h-3zM1002 403h3v1h-3zM1008 403h3v1h-3zM1014 403h3v1h-3zM1020 403h3v1h-3zM1026 403h3v1h-3zM1032 403h3v1h-3zM1038 403h3v1h-3zM1044 403h3v1h-3zM1050 403h3v1h-3zM1056 403h3v1h-3zM1062 403h3v1h-3zM1068 403h3v1h-3zM1074 403h3v1h-3zM1080 403h3v1h-3zM1086 403h3v1h-3zM1092 403h3v1h-3zM1098 403h3v1h-3zM1104 403h3v1h-3zM1110 403h3v1h-3zM1116 403h3v1h-3zM1122 403h3v1h-3zM1128 403h3v1h-3zM1134 403h3v1h-3zM1140 403h3v1h-3zM1146 403h3v1h-3zM1152 403h3v1h-3zM1158 403h3v1h-3zM1164 403h3v1h-3zM1170 403h3v1h-3zM1176 403h3v1h-3zM1182 403h3v1h-3zM1188 403h3v1h-3zM1194 403h3v1h-3zM1200 403h3v1h-3zM1206 403h3v1h-3zM1212 403h3v1h-3zM1218 403h3v1h-3zM1224 403h3v1h-3zM1230 403h3v1h-3zM1236 403h3v1h-3zM1242 403h3v1h-3zM1248 403h3v1h-3zM1254 403h3v1h-3zM1260 403h3v1h-3zM1266 403h3v1h-3zM1272 403h3v1h-3zM1278 403h3v1h-3zM1284 403h3v1h-3zM1290 403h3v1h-3zM1296 403h3v1h-3zM1302 403h3v1h-3zM1308 403h3v1h-3zM1314 403h3v1h-3zM1320 403h3v1h-3zM1326 403h3v1h-3zM1332 403h3v1h-3zM1338 403h3v1h-3zM1344 403h3v1h-3zM1350 403h3v1h-3zM1356 403h3v1h-3zM1362 403h3v1h-3zM1368 403h3v1h-3zM1374 403h3v1h-3zM1380 403h3v1h-3zM1386 403h3v1h-3zM1392 403h3v1h-3zM1398 403h3v1h-3zM1404 403h3v1h-3zM1410 403h3v1h-3zM1416 403h3v1h-3zM1422 403h3v1h-3zM1428 403h3v1h-3zM1434 403h3v1h-3zM1440 403h3v1h-3zM1446 403h3v1h-3zM6 468h3v1h-3zM12 468h3v1h-3zM18 468h3v1h-3zM24 468h3v1h-3zM30 468h3v1h-3zM36 468h3v1h-3zM42 468h3v1h-3zM48 468h3v1h-3zM54 468h3v1h-3zM60 468h3v1h-3zM66 468h3v1h-3zM72 468h3v1h-3zM78 468h3v1h-3zM84 468h3v1h-3zM90 468h3v1h-3zM96 468h3v1h-3zM102 468h3v1h-3zM108 468h3v1h-3zM114 468h3v1h-3zM120 468h3v1h-3zM126 468h3v1h-3zM132 468h3v1h-3zM138 468h3v1h-3zM144 468h3v1h-3zM150 468h3v1h-3zM156 468h3v1h-3zM162 468h3v1h-3zM168 468h3v1h-3zM174 468h3v1h-3zM180 468h3v1h-3zM186 468h3v1h-3zM192 468h3v1h-3zM198 468h3v1h-3zM204 468h3v1h-3zM210 468h3v1h-3zM216 468h3v1h-3zM222 468h3v1h-3zM228 468h3v1h-3zM234 468h3v1h-3zM240 468h3v1h-3zM246 468h3v1h-3zM252 468h3v1h-3zM258 468h3v1h-3zM264 468h3v1h-3zM270 468h3v1h-3zM276 468h3v1h-3zM282 468h3v1h-3zM288 468h3v1h-3zM294 468h3v1h-3zM300 468h3v1h-3zM306 468h3v1h-3zM312 468h3v1h-3zM318 468h3v1h-3zM324 468h3v1h-3zM330 468h3v1h-3zM336 468h3v1h-3zM342 468h3v1h-3zM348 468h3v1h-3zM354 468h3v1h-3zM360 468h3v1h-3zM366 468h3v1h-3zM372 468h3v1h-3zM378 468h3v1h-3zM384 468h3v1h-3zM390 468h3v1h-3zM396 468h3v1h-3zM402 468h3v1h-3zM408 468h3v1h-3zM414 468h3v1h-3zM420 468h3v1h-3zM426 468h3v1h-3zM432 468h3v1h-3zM438 468h3v1h-3zM444 468h3v1h-3zM450 468h3v1h-3zM456 468h3v1h-3zM462 468h3v1h-3zM468 468h3v1h-3zM474 468h3v1h-3zM480 468h3v1h-3zM486 468h3v1h-3zM492 468h3v1h-3zM498 468h3v1h-3zM504 468h3v1h-3zM510 468h3v1h-3zM516 468h3v1h-3zM522 468h3v1h-3zM528 468h3v1h-3zM534 468h3v1h-3zM540 468h3v1h-3zM546 468h3v1h-3zM552 468h3v1h-3zM558 468h3v1h-3zM564 468h3v1h-3zM570 468h3v1h-3zM576 468h3v1h-3zM582 468h3v1h-3zM588 468h3v1h-3zM594 468h3v1h-3zM600 468h3v1h-3zM606 468h3v1h-3zM612 468h3v1h-3zM618 468h3v1h-3zM624 468h3v1h-3zM630 468h3v1h-3zM636 468h3v1h-3zM642 468h3v1h-3zM648 468h3v1h-3zM654 468h3v1h-3zM660 468h3v1h-3zM666 468h3v1h-3zM672 468h3v1h-3zM678 468h3v1h-3zM684 468h3v1h-3zM690 468h3v1h-3zM696 468h3v1h-3zM702 468h3v1h-3zM708 468h3v1h-3zM714 468h3v1h-3zM720 468h3v1h-3zM726 468h3v1h-3zM732 468h3v1h-3zM738 468h3v1h-3zM744 468h3v1h-3zM750 468h3v1h-3zM756 468h3v1h-3zM762 468h3v1h-3zM768 468h3v1h-3zM774 468h3v1h-3zM780 468h3v1h-3zM786 468h3v1h-3zM792 468h3v1h-3zM798 468h3v1h-3zM804 468h3v1h-3zM810 468h3v1h-3zM816 468h3v1h-3zM822 468h3v1h-3zM828 468h3v1h-3zM834 468h3v1h-3zM840 468h3v1h-3zM846 468h3v1h-3zM852 468h3v1h-3zM858 468h3v1h-3zM864 468h3v1h-3zM870 468h3v1h-3zM876 468h3v1h-3zM882 468h3v1h-3zM888 468h3v1h-3zM894 468h3v1h-3zM900 468h3v1h-3zM906 468h3v1h-3zM912 468h3v1h-3zM918 468h3v1h-3zM924 468h3v1h-3zM930 468h3v1h-3zM936 468h3v1h-3zM942 468h3v1h-3zM948 468h3v1h-3zM954 468h3v1h-3zM960 468h3v1h-3zM966 468h3v1h-3zM972 468h3v1h-3zM978 468h3v1h-3zM984 468h3v1h-3zM990 468h3v1h-3zM996 468h3v1h-3zM1002 468h3v1h-3zM1008 468h3v1h-3zM1014 468h3v1h-3zM1020 468h3v1h-3zM1026 468h3v1h-3zM1032 468h3v1h-3zM1038 468h3v1h-3zM1044 468h3v1h-3zM1050 468h3v1h-3zM1056 468h3v1h-3zM1062 468h3v1h-3zM1068 468h3v1h-3zM1074 468h3v1h-3zM1080 468h3v1h-3zM1086 468h3v1h-3zM1092 468h3v1h-3zM1098 468h3v1h-3zM1104 468h3v1h-3zM1110 468h3v1h-3zM1116 468h3v1h-3zM1122 468h3v1h-3zM1128 468h3v1h-3zM1134 468h3v1h-3zM1140 468h3v1h-3zM1146 468h3v1h-3zM1152 468h3v1h-3zM1158 468h3v1h-3zM1164 468h3v1h-3zM1170 468h3v1h-3zM1176 468h3v1h-3zM1182 468h3v1h-3zM1188 468h3v1h-3zM1194 468h3v1h-3zM1200 468h3v1h-3zM1206 468h3v1h-3zM1212 468h3v1h-3zM1218 468h3v1h-3zM1224 468h3v1h-3zM1230 468h3v1h-3zM1236 468h3v1h-3zM1242 468h3v1h-3zM1248 468h3v1h-3zM1254 468h3v1h-3zM1260 468h3v1h-3zM1266 468h3v1h-3zM1272 468h3v1h-3zM1278 468h3v1h-3zM1284 468h3v1h-3zM1290 468h3v1h-3zM1296 468h3v1h-3zM1302 468h3v1h-3zM1308 468h3v1h-3zM1314 468h3v1h-3zM1320 468h3v1h-3zM1326 468h3v1h-3zM1332 468h3v1h-3zM1338 468h3v1h-3zM1344 468h3v1h-3zM1350 468h3v1h-3zM1356 468h3v1h-3zM1362 468h3v1h-3zM1368 468h3v1h-3zM1374 468h3v1h-3zM1380 468h3v1h-3zM1386 468h3v1h-3zM1392 468h3v1h-3zM1398 468h3v1h-3zM1404 468h3v1h-3zM1410 468h3v1h-3zM1416 468h3v1h-3zM1422 468h3v1h-3zM1428 468h3v1h-3zM1434 468h3v1h-3zM1440 468h3v1h-3zM1446 468h3v1h-3zM6 533h3v1h-3zM12 533h3v1h-3zM18 533h3v1h-3zM24 533h3v1h-3zM30 533h3v1h-3zM36 533h3v1h-3zM42 533h3v1h-3zM48 533h3v1h-3zM54 533h3v1h-3zM60 533h3v1h-3zM66 533h3v1h-3zM72 533h3v1h-3zM78 533h3v1h-3zM84 533h3v1h-3zM90 533h3v1h-3zM96 533h3v1h-3zM102 533h3v1h-3zM108 533h3v1h-3zM114 533h3v1h-3zM120 533h3v1h-3zM126 533h3v1h-3zM132 533h3v1h-3zM138 533h3v1h-3zM144 533h3v1h-3zM150 533h3v1h-3zM156 533h3v1h-3zM162 533h3v1h-3zM168 533h3v1h-3zM174 533h3v1h-3zM180 533h3v1h-3zM186 533h3v1h-3zM192 533h3v1h-3zM198 533h3v1h-3zM204 533h3v1h-3zM210 533h3v1h-3zM216 533h3v1h-3zM222 533h3v1h-3zM228 533h3v1h-3zM234 533h3v1h-3zM240 533h3v1h-3zM246 533h3v1h-3zM252 533h3v1h-3zM258 533h3v1h-3zM264 533h3v1h-3zM270 533h3v1h-3zM276 533h3v1h-3zM282 533h3v1h-3zM288 533h3v1h-3zM294 533h3v1h-3zM300 533h3v1h-3zM306 533h3v1h-3zM312 533h3v1h-3zM318 533h3v1h-3zM324 533h3v1h-3zM330 533h3v1h-3zM336 533h3v1h-3zM342 533h3v1h-3zM348 533h3v1h-3zM354 533h3v1h-3zM360 533h3v1h-3zM366 533h3v1h-3zM372 533h3v1h-3zM378 533h3v1h-3zM384 533h3v1h-3zM390 533h3v1h-3zM396 533h3v1h-3zM402 533h3v1h-3zM408 533h3v1h-3zM414 533h3v1h-3zM420 533h3v1h-3zM426 533h3v1h-3zM432 533h3v1h-3zM438 533h3v1h-3zM444 533h3v1h-3zM450 533h3v1h-3zM456 533h3v1h-3zM462 533h3v1h-3zM468 533h3v1h-3zM474 533h3v1h-3zM480 533h3v1h-3zM486 533h3v1h-3zM492 533h3v1h-3zM498 533h3v1h-3zM504 533h3v1h-3zM510 533h3v1h-3zM516 533h3v1h-3zM522 533h3v1h-3zM528 533h3v1h-3zM534 533h3v1h-3zM540 533h3v1h-3zM546 533h3v1h-3zM552 533h3v1h-3zM558 533h3v1h-3zM564 533h3v1h-3zM570 533h3v1h-3zM576 533h3v1h-3zM582 533h3v1h-3zM588 533h3v1h-3zM594 533h3v1h-3zM600 533h3v1h-3zM606 533h3v1h-3zM612 533h3v1h-3zM618 533h3v1h-3zM624 533h3v1h-3zM630 533h3v1h-3zM636 533h3v1h-3zM642 533h3v1h-3zM648 533h3v1h-3zM654 533h3v1h-3zM660 533h3v1h-3zM666 533h3v1h-3zM672 533h3v1h-3zM678 533h3v1h-3zM684 533h3v1h-3zM690 533h3v1h-3zM696 533h3v1h-3zM702 533h3v1h-3zM708 533h3v1h-3zM714 533h3v1h-3zM720 533h3v1h-3zM726 533h3v1h-3zM732 533h3v1h-3zM738 533h3v1h-3zM744 533h3v1h-3zM750 533h3v1h-3zM756 533h3v1h-3zM762 533h3v1h-3zM768 533h3v1h-3zM774 533h3v1h-3zM780 533h3v1h-3zM786 533h3v1h-3zM792 533h3v1h-3zM798 533h3v1h-3zM804 533h3v1h-3zM810 533h3v1h-3zM816 533h3v1h-3zM822 533h3v1h-3zM828 533h3v1h-3zM834 533h3v1h-3zM840 533h3v1h-3zM846 533h3v1h-3zM852 533h3v1h-3zM858 533h3v1h-3zM864 533h3v1h-3zM870 533h3v1h-3zM876 533h3v1h-3zM882 533h3v1h-3zM888 533h3v1h-3zM894 533h3v1h-3zM900 533h3v1h-3zM906 533h3v1h-3zM912 533h3v1h-3zM918 533h3v1h-3zM924 533h3v1h-3zM930 533h3v1h-3zM936 533h3v1h-3zM942 533h3v1h-3zM948 533h3v1h-3zM954 533h3v1h-3zM960 533h3v1h-3zM966 533h3v1h-3zM972 533h3v1h-3zM978 533h3v1h-3zM984 533h3v1h-3zM990 533h3v1h-3zM996 533h3v1h-3zM1002 533h3v1h-3zM1008 533h3v1h-3zM1014 533h3v1h-3zM1020 533h3v1h-3zM1026 533h3v1h-3zM1032 533h3v1h-3zM1038 533h3v1h-3zM1044 533h3v1h-3zM1050 533h3v1h-3zM1056 533h3v1h-3zM1062 533h3v1h-3zM1068 533h3v1h-3zM1074 533h3v1h-3zM1080 533h3v1h-3zM1086 533h3v1h-3zM1092 533h3v1h-3zM1098 533h3v1h-3zM1104 533h3v1h-3zM1110 533h3v1h-3zM1116 533h3v1h-3zM1122 533h3v1h-3zM1128 533h3v1h-3zM1134 533h3v1h-3zM1140 533h3v1h-3zM1146 533h3v1h-3zM1152 533h3v1h-3zM1158 533h3v1h-3zM1164 533h3v1h-3zM1170 533h3v1h-3zM1176 533h3v1h-3zM1182 533h3v1h-3zM1188 533h3v1h-3zM1194 533h3v1h-3zM1200 533h3v1h-3zM1206 533h3v1h-3zM1212 533h3v1h-3zM1218 533h3v1h-3zM1224 533h3v1h-3zM1230 533h3v1h-3zM1236 533h3v1h-3zM1242 533h3v1h-3zM1248 533h3v1h-3zM1254 533h3v1h-3zM1260 533h3v1h-3zM1266 533h3v1h-3zM1272 533h3v1h-3zM1278 533h3v1h-3zM1284 533h3v1h-3zM1290 533h3v1h-3zM1296 533h3v1h-3zM1302 533h3v1h-3zM1308 533h3v1h-3zM1314 533h3v1h-3zM1320 533h3v1h-3zM1326 533h3v1h-3zM1332 533h3v1h-3zM1338 533h3v1h-3zM1344 533h3v1h-3zM1350 533h3v1h-3zM1356 533h3v1h-3zM1362 533h3v1h-3zM1368 533h3v1h-3zM1374 533h3v1h-3zM1380 533h3v1h-3zM1386 533h3v1h-3zM1392 533h3v1h-3zM1398 533h3v1h-3zM1404 533h3v1h-3zM1410 533h3v1h-3zM1416 533h3v1h-3zM1422 533h3v1h-3zM1428 533h3v1h-3zM1434 533h3v1h-3zM1440 533h3v1h-3zM1446 533h3v1h-3zM6 598h3v1h-3zM12 598h3v1h-3zM18 598h3v1h-3zM24 598h3v1h-3zM30 598h3v1h-3zM36 598h3v1h-3zM42 598h3v1h-3zM48 598h3v1h-3zM54 598h3v1h-3zM60 598h3v1h-3zM66 598h3v1h-3zM72 598h3v1h-3zM78 598h3v1h-3zM84 598h3v1h-3zM90 598h3v1h-3zM96 598h3v1h-3zM102 598h3v1h-3zM108 598h3v1h-3zM114 598h3v1h-3zM120 598h3v1h-3zM126 598h3v1h-3zM132 598h3v1h-3zM138 598h3v1h-3zM144 598h3v1h-3zM150 598h3v1h-3zM156 598h3v1h-3zM162 598h3v1h-3zM168 598h3v1h-3zM174 598h3v1h-3zM180 598h3v1h-3zM186 598h3v1h-3zM192 598h3v1h-3zM198 598h3v1h-3zM204 598h3v1h-3zM210 598h3v1h-3zM216 598h3v1h-3zM222 598h3v1h-3zM228 598h3v1h-3zM234 598h3v1h-3zM240 598h3v1h-3zM246 598h3v1h-3zM252 598h3v1h-3zM258 598h3v1h-3zM264 598h3v1h-3zM270 598h3v1h-3zM276 598h3v1h-3zM282 598h3v1h-3zM288 598h3v1h-3zM294 598h3v1h-3zM300 598h3v1h-3zM306 598h3v1h-3zM312 598h3v1h-3zM318 598h3v1h-3zM324 598h3v1h-3zM330 598h3v1h-3zM336 598h3v1h-3zM342 598h3v1h-3zM348 598h3v1h-3zM354 598h3v1h-3zM360 598h3v1h-3zM366 598h3v1h-3zM372 598h3v1h-3zM378 598h3v1h-3zM384 598h3v1h-3zM390 598h3v1h-3zM396 598h3v1h-3zM402 598h3v1h-3zM408 598h3v1h-3zM414 598h3v1h-3zM420 598h3v1h-3zM426 598h3v1h-3zM432 598h3v1h-3zM438 598h3v1h-3zM444 598h3v1h-3zM450 598h3v1h-3zM456 598h3v1h-3zM462 598h3v1h-3zM468 598h3v1h-3zM474 598h3v1h-3zM480 598h3v1h-3zM486 598h3v1h-3zM492 598h3v1h-3zM498 598h3v1h-3zM504 598h3v1h-3zM510 598h3v1h-3zM516 598h3v1h-3zM522 598h3v1h-3zM528 598h3v1h-3zM534 598h3v1h-3zM540 598h3v1h-3zM546 598h3v1h-3zM552 598h3v1h-3zM558 598h3v1h-3zM564 598h3v1h-3zM570 598h3v1h-3zM576 598h3v1h-3zM582 598h3v1h-3zM588 598h3v1h-3zM594 598h3v1h-3zM600 598h3v1h-3zM606 598h3v1h-3zM612 598h3v1h-3zM618 598h3v1h-3zM624 598h3v1h-3zM630 598h3v1h-3zM636 598h3v1h-3zM642 598h3v1h-3zM648 598h3v1h-3zM654 598h3v1h-3zM660 598h3v1h-3zM666 598h3v1h-3zM672 598h3v1h-3zM678 598h3v1h-3zM684 598h3v1h-3zM690 598h3v1h-3zM696 598h3v1h-3zM702 598h3v1h-3zM708 598h3v1h-3zM714 598h3v1h-3zM720 598h3v1h-3zM726 598h3v1h-3zM732 598h3v1h-3zM738 598h3v1h-3zM744 598h3v1h-3zM750 598h3v1h-3zM756 598h3v1h-3zM762 598h3v1h-3zM768 598h3v1h-3zM774 598h3v1h-3zM780 598h3v1h-3zM786 598h3v1h-3zM792 598h3v1h-3zM798 598h3v1h-3zM804 598h3v1h-3zM810 598h3v1h-3zM816 598h3v1h-3zM822 598h3v1h-3zM828 598h3v1h-3zM834 598h3v1h-3zM840 598h3v1h-3zM846 598h3v1h-3zM852 598h3v1h-3zM858 598h3v1h-3zM864 598h3v1h-3zM870 598h3v1h-3zM876 598h3v1h-3zM882 598h3v1h-3zM888 598h3v1h-3zM894 598h3v1h-3zM900 598h3v1h-3zM906 598h3v1h-3zM912 598h3v1h-3zM918 598h3v1h-3zM924 598h3v1h-3zM930 598h3v1h-3zM936 598h3v1h-3zM942 598h3v1h-3zM948 598h3v1h-3zM954 598h3v1h-3zM960 598h3v1h-3zM966 598h3v1h-3zM972 598h3v1h-3zM978 598h3v1h-3zM984 598h3v1h-3zM990 598h3v1h-3zM996 598h3v1h-3zM1002 598h3v1h-3zM1008 598h3v1h-3zM1014 598h3v1h-3zM1020 598h3v1h-3zM1026 598h3v1h-3zM1032 598h3v1h-3zM1038 598h3v1h-3zM1044 598h3v1h-3zM1050 598h3v1h-3zM1056 598h3v1h-3zM1062 598h3v1h-3zM1068 598h3v1h-3zM1074 598h3v1h-3zM1080 598h3v1h-3zM1086 598h3v1h-3zM1092 598h3v1h-3zM1098 598h3v1h-3zM1104 598h3v1h-3zM1110 598h3v1h-3zM1116 598h3v1h-3zM1122 598h3v1h-3zM1128 598h3v1h-3zM1134 598h3v1h-3zM1140 598h3v1h-3zM1146 598h3v1h-3zM1152 598h3v1h-3zM1158 598h3v1h-3zM1164 598h3v1h-3zM1170 598h3v1h-3zM1176 598h3v1h-3zM1182 598h3v1h-3zM1188 598h3v1h-3zM1194 598h3v1h-3zM1200 598h3v1h-3zM1206 598h3v1h-3zM1212 598h3v1h-3zM1218 598h3v1h-3zM1224 598h3v1h-3zM1230 598h3v1h-3zM1236 598h3v1h-3zM1242 598h3v1h-3zM1248 598h3v1h-3zM1254 598h3v1h-3zM1260 598h3v1h-3zM1266 598h3v1h-3zM1272 598h3v1h-3zM1278 598h3v1h-3zM1284 598h3v1h-3zM1290 598h3v1h-3zM1296 598h3v1h-3zM1302 598h3v1h-3zM1308 598h3v1h-3zM1314 598h3v1h-3zM1320 598h3v1h-3zM1326 598h3v1h-3zM1332 598h3v1h-3zM1338 598h3v1h-3zM1344 598h3v1h-3zM1350 598h3v1h-3zM1356 598h3v1h-3zM1362 598h3v1h-3zM1368 598h3v1h-3zM1374 598h3v1h-3zM1380 598h3v1h-3zM1386 598h3v1h-3zM1392 598h3v1h-3zM1398 598h3v1h-3zM1404 598h3v1h-3zM1410 598h3v1h-3zM1416 598h3v1h-3zM1422 598h3v1h-3zM1428 598h3v1h-3zM1434 598h3v1h-3zM1440 598h3v1h-3zM1446 598h3v1h-3zM69 5h1v2h-1zM69 10h1v3h-1zM69 16h1v3h-1zM69 22h1v3h-1zM69 28h1v3h-1zM69 34h1v3h-1zM69 40h1v3h-1zM69 46h1v3h-1zM69 52h1v3h-1zM69 58h1v3h-1zM69 64h1v3h-1zM69 70h1v3h-1zM69 76h1v3h-1zM69 82h1v3h-1zM69 88h1v3h-1zM69 94h1v3h-1zM69 100h1v3h-1zM69 106h1v3h-1zM69 112h1v3h-1zM69 118h1v3h-1zM69 124h1v3h-1zM69 130h1v3h-1zM69 136h1v3h-1zM69 142h1v3h-1zM69 148h1v3h-1zM69 154h1v3h-1zM69 160h1v3h-1zM69 166h1v3h-1zM69 172h1v3h-1zM69 178h1v3h-1zM69 184h1v3h-1zM69 190h1v3h-1zM69 196h1v3h-1zM69 202h1v3h-1zM69 208h1v3h-1zM69 214h1v3h-1zM69 220h1v3h-1zM69 226h1v3h-1zM69 232h1v3h-1zM69 238h1v3h-1zM69 244h1v3h-1zM69 250h1v3h-1zM69 256h1v3h-1zM69 262h1v3h-1zM69 268h1v3h-1zM69 274h1v3h-1zM69 280h1v3h-1zM69 286h1v3h-1zM69 292h1v3h-1zM69 298h1v3h-1zM69 304h1v3h-1zM69 310h1v3h-1zM69 316h1v3h-1zM69 322h1v3h-1zM69 328h1v3h-1zM69 334h1v3h-1zM69 340h1v3h-1zM69 346h1v3h-1zM69 352h1v3h-1zM69 358h1v3h-1zM69 364h1v3h-1zM69 370h1v3h-1zM69 376h1v3h-1zM69 382h1v3h-1zM69 388h1v3h-1zM69 394h1v3h-1zM69 400h1v3h-1zM69 406h1v3h-1zM69 412h1v3h-1zM69 418h1v3h-1zM69 424h1v3h-1zM69 430h1v3h-1zM69 436h1v3h-1zM69 442h1v3h-1zM69 448h1v3h-1zM69 454h1v3h-1zM69 460h1v3h-1zM69 466h1v3h-1zM69 472h1v3h-1zM69 478h1v3h-1zM69 484h1v3h-1zM69 490h1v3h-1zM69 496h1v3h-1zM69 502h1v3h-1zM69 508h1v3h-1zM69 514h1v3h-1zM69 520h1v3h-1zM69 526h1v3h-1zM69 532h1v3h-1zM69 538h1v3h-1zM69 544h1v3h-1zM69 550h1v3h-1zM69 556h1v3h-1zM69 562h1v3h-1zM69 568h1v3h-1zM69 574h1v3h-1zM69 580h1v3h-1zM69 586h1v3h-1zM69 592h1v3h-1zM69 598h1v3h-1zM69 604h1v3h-1zM69 610h1v3h-1zM69 616h1v3h-1zM69 622h1v3h-1zM69 628h1v3h-1zM69 636h1v1h-1zM69 640h1v3h-1zM69 646h1v3h-1zM69 652h1v3h-1zM69 658h1v3h-1zM69 664h1v3h-1zM69 670h1v3h-1zM69 676h1v3h-1zM69 682h1v3h-1zM69 688h1v3h-1zM69 694h1v3h-1zM69 700h1v3h-1zM69 706h1v3h-1zM69 712h1v3h-1zM69 718h1v3h-1zM69 724h1v3h-1zM69 730h1v3h-1zM69 736h1v3h-1zM69 742h1v3h-1zM69 748h1v3h-1zM69 754h1v3h-1zM69 760h1v3h-1zM69 766h1v3h-1zM69 772h1v3h-1zM69 778h1v3h-1zM133 5h1v2h-1zM133 10h1v3h-1zM133 16h1v3h-1zM133 22h1v3h-1zM133 28h1v3h-1zM133 34h1v3h-1zM133 40h1v3h-1zM133 46h1v3h-1zM133 52h1v3h-1zM133 58h1v3h-1zM133 64h1v3h-1zM133 70h1v3h-1zM133 76h1v3h-1zM133 82h1v3h-1zM133 88h1v3h-1zM133 94h1v3h-1zM133 100h1v3h-1zM133 106h1v3h-1zM133 112h1v3h-1zM133 118h1v3h-1zM133 124h1v3h-1zM133 130h1v3h-1zM133 136h1v3h-1zM133 142h1v3h-1zM133 148h1v3h-1zM133 154h1v3h-1zM133 160h1v3h-1zM133 166h1v3h-1zM133 172h1v3h-1zM133 178h1v3h-1zM133 184h1v3h-1zM133 190h1v3h-1zM133 196h1v3h-1zM133 202h1v3h-1zM133 208h1v3h-1zM133 214h1v3h-1zM133 220h1v3h-1zM133 226h1v3h-1zM133 232h1v3h-1zM133 238h1v3h-1zM133 244h1v3h-1zM133 250h1v3h-1zM133 256h1v3h-1zM133 262h1v3h-1zM133 268h1v3h-1zM133 274h1v3h-1zM133 280h1v3h-1zM133 286h1v3h-1zM133 292h1v3h-1zM133 298h1v3h-1zM133 304h1v3h-1zM133 310h1v3h-1zM133 316h1v3h-1zM133 322h1v3h-1zM133 328h1v3h-1zM133 334h1v3h-1zM133 340h1v3h-1zM133 346h1v3h-1zM133 352h1v3h-1zM133 358h1v3h-1zM133 364h1v3h-1zM133 370h1v3h-1zM133 376h1v3h-1zM133 382h1v3h-1zM133 388h1v3h-1zM133 394h1v3h-1zM133 400h1v3h-1zM133 406h1v3h-1zM133 412h1v3h-1zM133 418h1v3h-1zM133 424h1v3h-1zM133 430h1v3h-1zM133 436h1v3h-1zM133 442h1v3h-1zM133 448h1v3h-1zM133 454h1v3h-1zM133 460h1v3h-1zM133 466h1v3h-1zM133 472h1v3h-1zM133 478h1v3h-1zM133 484h1v3h-1zM133 490h1v3h-1zM133 496h1v3h-1zM133 502h1v3h-1zM133 508h1v3h-1zM133 514h1v3h-1zM133 520h1v3h-1zM133 526h1v3h-1zM133 532h1v3h-1zM133 538h1v3h-1zM133 544h1v3h-1zM133 550h1v3h-1zM133 556h1v3h-1zM133 562h1v3h-1zM133 568h1v3h-1zM133 574h1v3h-1zM133 580h1v3h-1zM133 586h1v3h-1zM133 592h1v3h-1zM133 598h1v3h-1zM133 604h1v3h-1zM133 610h1v3h-1zM133 616h1v3h-1zM133 622h1v3h-1zM133 628h1v3h-1zM133 636h1v1h-1zM133 640h1v3h-1zM133 646h1v3h-1zM133 652h1v3h-1zM133 658h1v3h-1zM133 664h1v3h-1zM133 670h1v3h-1zM133 676h1v3h-1zM133 682h1v3h-1zM133 688h1v3h-1zM133 694h1v3h-1zM133 700h1v3h-1zM133 706h1v3h-1zM133 712h1v3h-1zM133 718h1v3h-1zM133 724h1v3h-1zM133 730h1v3h-1zM133 736h1v3h-1zM133 742h1v3h-1zM133 748h1v3h-1zM133 754h1v3h-1zM133 760h1v3h-1zM133 766h1v3h-1zM133 772h1v3h-1zM133 778h1v3h-1zM197 5h1v2h-1zM197 10h1v3h-1zM197 16h1v3h-1zM197 22h1v3h-1zM197 28h1v3h-1zM197 34h1v3h-1zM197 40h1v3h-1zM197 46h1v3h-1zM197 52h1v3h-1zM197 58h1v3h-1zM197 64h1v3h-1zM197 70h1v3h-1zM197 76h1v3h-1zM197 82h1v3h-1zM197 88h1v3h-1zM197 94h1v3h-1zM197 100h1v3h-1zM197 106h1v3h-1zM197 112h1v3h-1zM197 118h1v3h-1zM197 124h1v3h-1zM197 130h1v3h-1zM197 136h1v3h-1zM197 142h1v3h-1zM197 148h1v3h-1zM197 154h1v3h-1zM197 160h1v3h-1zM197 166h1v3h-1zM197 172h1v3h-1zM197 178h1v3h-1zM197 184h1v3h-1zM197 190h1v3h-1zM197 196h1v3h-1zM197 202h1v3h-1zM197 208h1v3h-1zM197 214h1v3h-1zM197 220h1v3h-1zM197 226h1v3h-1zM197 232h1v3h-1zM197 238h1v3h-1zM197 244h1v3h-1zM197 250h1v3h-1zM197 256h1v3h-1zM197 262h1v3h-1zM197 268h1v3h-1zM197 274h1v3h-1zM197 280h1v3h-1zM197 286h1v3h-1zM197 292h1v3h-1zM197 298h1v3h-1zM197 304h1v3h-1zM197 310h1v3h-1zM197 316h1v3h-1zM197 322h1v3h-1zM197 328h1v3h-1zM197 334h1v3h-1zM197 340h1v3h-1zM197 346h1v3h-1zM197 352h1v3h-1zM197 358h1v3h-1zM197 364h1v3h-1zM197 370h1v3h-1zM197 376h1v3h-1zM197 382h1v3h-1zM197 388h1v3h-1zM197 394h1v3h-1zM197 400h1v3h-1zM197 406h1v3h-1zM197 412h1v3h-1zM197 418h1v3h-1zM197 424h1v3h-1zM197 430h1v3h-1zM197 436h1v3h-1zM197 442h1v3h-1zM197 448h1v3h-1zM197 454h1v3h-1zM197 460h1v3h-1zM197 466h1v3h-1zM197 472h1v3h-1zM197 478h1v3h-1zM197 484h1v3h-1zM197 490h1v3h-1zM197 496h1v3h-1zM197 502h1v3h-1zM197 508h1v3h-1zM197 514h1v3h-1zM197 520h1v3h-1zM197 526h1v3h-1zM197 532h1v3h-1zM197 538h1v3h-1zM197 544h1v3h-1zM197 550h1v3h-1zM197 556h1v3h-1zM197 562h1v3h-1zM197 568h1v3h-1zM197 574h1v3h-1zM197 580h1v3h-1zM197 586h1v3h-1zM197 592h1v3h-1zM197 598h1v3h-1zM197 604h1v3h-1zM197 610h1v3h-1zM197 616h1v3h-1zM197 622h1v3h-1zM197 628h1v3h-1zM197 636h1v1h-1zM197 640h1v3h-1zM197 646h1v3h-1zM197 652h1v3h-1zM197 658h1v3h-1zM197 664h1v3h-1zM197 670h1v3h-1zM197 676h1v3h-1zM197 682h1v3h-1zM197 688h1v3h-1zM197 694h1v3h-1zM197 700h1v3h-1zM197 706h1v3h-1zM197 712h1v3h-1zM197 718h1v3h-1zM197 724h1v3h-1zM197 730h1v3h-1zM197 736h1v3h-1zM197 742h1v3h-1zM197 748h1v3h-1zM197 754h1v3h-1zM197 760h1v3h-1zM197 766h1v3h-1zM197 772h1v3h-1zM197 778h1v3h-1zM261 5h1v2h-1zM261 10h1v3h-1zM261 16h1v3h-1zM261 22h1v3h-1zM261 28h1v3h-1zM261 34h1v3h-1zM261 40h1v3h-1zM261 46h1v3h-1zM261 52h1v3h-1zM261 58h1v3h-1zM261 64h1v3h-1zM261 70h1v3h-1zM261 76h1v3h-1zM261 82h1v3h-1zM261 88h1v3h-1zM261 94h1v3h-1zM261 100h1v3h-1zM261 106h1v3h-1zM261 112h1v3h-1zM261 118h1v3h-1zM261 124h1v3h-1zM261 130h1v3h-1zM261 136h1v3h-1zM261 142h1v3h-1zM261 148h1v3h-1zM261 154h1v3h-1zM261 160h1v3h-1zM261 166h1v3h-1zM261 172h1v3h-1zM261 178h1v3h-1zM261 184h1v3h-1zM261 190h1v3h-1zM261 196h1v3h-1zM261 202h1v3h-1zM261 208h1v3h-1zM261 214h1v3h-1zM261 220h1v3h-1zM261 226h1v3h-1zM261 232h1v3h-1zM261 238h1v3h-1zM261 244h1v3h-1zM261 250h1v3h-1zM261 256h1v3h-1zM261 262h1v3h-1zM261 268h1v3h-1zM261 274h1v3h-1zM261 280h1v3h-1zM261 286h1v3h-1zM261 292h1v3h-1zM261 298h1v3h-1zM261 304h1v3h-1zM261 310h1v3h-1zM261 316h1v3h-1zM261 322h1v3h-1zM261 328h1v3h-1zM261 334h1v3h-1zM261 340h1v3h-1zM261 346h1v3h-1zM261 352h1v3h-1zM261 358h1v3h-1zM261 364h1v3h-1zM261 370h1v3h-1zM261 376h1v3h-1zM261 382h1v3h-1zM261 388h1v3h-1zM261 394h1v3h-1zM261 400h1v3h-1zM261 406h1v3h-1zM261 412h1v3h-1zM261 418h1v3h-1zM261 424h1v3h-1zM261 430h1v3h-1zM261 436h1v3h-1zM261 442h1v3h-1zM261 448h1v3h-1zM261 454h1v3h-1zM261 460h1v3h-1zM261 466h1v3h-1zM261 472h1v3h-1zM261 478h1v3h-1zM261 484h1v3h-1zM261 490h1v3h-1zM261 496h1v3h-1zM261 502h1v3h-1zM261 508h1v3h-1zM261 514h1v3h-1zM261 520h1v3h-1zM261 526h1v3h-1zM261 532h1v3h-1zM261 538h1v3h-1zM261 544h1v3h-1zM261 550h1v3h-1zM261 556h1v3h-1zM261 562h1v3h-1zM261 568h1v3h-1zM261 574h1v3h-1zM261 580h1v3h-1zM261 586h1v3h-1zM261 592h1v3h-1zM261 598h1v3h-1zM261 604h1v3h-1zM261 610h1v3h-1zM261 616h1v3h-1zM261 622h1v3h-1zM261 628h1v3h-1zM261 636h1v1h-1zM261 640h1v3h-1zM261 646h1v3h-1zM261 652h1v3h-1zM261 658h1v3h-1zM261 664h1v3h-1zM261 670h1v3h-1zM261 676h1v3h-1zM261 682h1v3h-1zM261 688h1v3h-1zM261 694h1v3h-1zM261 700h1v3h-1zM261 706h1v3h-1zM261 712h1v3h-1zM261 718h1v3h-1zM261 724h1v3h-1zM261 730h1v3h-1zM261 736h1v3h-1zM261 742h1v3h-1zM261 748h1v3h-1zM261 754h1v3h-1zM261 760h1v3h-1zM261 766h1v3h-1zM261 772h1v3h-1zM261 778h1v3h-1zM325 5h1v2h-1zM325 10h1v3h-1zM325 16h1v3h-1zM325 22h1v3h-1zM325 28h1v3h-1zM325 34h1v3h-1zM325 40h1v3h-1zM325 46h1v3h-1zM325 52h1v3h-1zM325 58h1v3h-1zM325 64h1v3h-1zM325 70h1v3h-1zM325 76h1v3h-1zM325 82h1v3h-1zM325 88h1v3h-1zM325 94h1v3h-1zM325 100h1v3h-1zM325 106h1v3h-1zM325 112h1v3h-1zM325 118h1v3h-1zM325 124h1v3h-1zM325 130h1v3h-1zM325 136h1v3h-1zM325 142h1v3h-1zM325 148h1v3h-1zM325 154h1v3h-1zM325 160h1v3h-1zM325 166h1v3h-1zM325 172h1v3h-1zM325 178h1v3h-1zM325 184h1v3h-1zM325 190h1v3h-1zM325 196h1v3h-1zM325 202h1v3h-1zM325 208h1v3h-1zM325 214h1v3h-1zM325 220h1v3h-1zM325 226h1v3h-1zM325 232h1v3h-1zM325 238h1v3h-1zM325 244h1v3h-1zM325 250h1v3h-1zM325 256h1v3h-1zM325 262h1v3h-1zM325 268h1v3h-1zM325 274h1v3h-1zM325 280h1v3h-1zM325 286h1v3h-1zM325 292h1v3h-1zM325 298h1v3h-1zM325 304h1v3h-1zM325 310h1v3h-1zM325 316h1v3h-1zM325 322h1v3h-1zM325 328h1v3h-1zM325 334h1v3h-1zM325 340h1v3h-1zM325 346h1v3h-1zM325 352h1v3h-1zM325 358h1v3h-1zM325 364h1v3h-1zM325 370h1v3h-1zM325 376h1v3h-1zM325 382h1v3h-1zM325 388h1v3h-1zM325 394h1v3h-1zM325 400h1v3h-1zM325 406h1v3h-1zM325 412h1v3h-1zM325 418h1v3h-1zM325 424h1v3h-1zM325 430h1v3h-1zM325 436h1v3h-1zM325 442h1v3h-1zM325 448h1v3h-1zM325 454h1v3h-1zM325 460h1v3h-1zM325 466h1v3h-1zM325 472h1v3h-1zM325 478h1v3h-1zM325 484h1v3h-1zM325 490h1v3h-1zM325 496h1v3h-1zM325 502h1v3h-1zM325 508h1v3h-1zM325 514h1v3h-1zM325 520h1v3h-1zM325 526h1v3h-1zM325 532h1v3h-1zM325 538h1v3h-1zM325 544h1v3h-1zM325 550h1v3h-1zM325 556h1v3h-1zM325 562h1v3h-1zM325 568h1v3h-1zM325 574h1v3h-1zM325 580h1v3h-1zM325 586h1v3h-1zM325 592h1v3h-1zM325 598h1v3h-1zM325 604h1v3h-1zM325 610h1v3h-1zM325 616h1v3h-1zM325 622h1v3h-1zM325 628h1v3h-1zM325 636h1v1h-1zM325 640h1v3h-1zM325 646h1v3h-1zM325 652h1v3h-1zM325 658h1v3h-1zM325 664h1v3h-1zM325 670h1v3h-1zM325 676h1v3h-1zM325 682h1v3h-1zM325 688h1v3h-1zM325 694h1v3h-1zM325 700h1v3h-1zM325 706h1v3h-1zM325 712h1v3h-1zM325 718h1v3h-1zM325 724h1v3h-1zM325 730h1v3h-1zM325 736h1v3h-1zM325 742h1v3h-1zM325 748h1v3h-1zM325 754h1v3h-1zM325 760h1v3h-1zM325 766h1v3h-1zM325 772h1v3h-1zM325 778h1v3h-1zM389 5h1v2h-1zM389 10h1v3h-1zM389 16h1v3h-1zM389 22h1v3h-1zM389 28h1v3h-1zM389 34h1v3h-1zM389 40h1v3h-1zM389 46h1v3h-1zM389 52h1v3h-1zM389 58h1v3h-1zM389 64h1v3h-1zM389 70h1v3h-1zM389 76h1v3h-1zM389 82h1v3h-1zM389 88h1v3h-1zM389 94h1v3h-1zM389 100h1v3h-1zM389 106h1v3h-1zM389 112h1v3h-1zM389 118h1v3h-1zM389 124h1v3h-1zM389 130h1v3h-1zM389 136h1v3h-1zM389 142h1v3h-1zM389 148h1v3h-1zM389 154h1v3h-1zM389 160h1v3h-1zM389 166h1v3h-1zM389 172h1v3h-1zM389 178h1v3h-1zM389 184h1v3h-1zM389 190h1v3h-1zM389 196h1v3h-1zM389 202h1v3h-1zM389 208h1v3h-1zM389 214h1v3h-1zM389 220h1v3h-1zM389 226h1v3h-1zM389 232h1v3h-1zM389 238h1v3h-1zM389 244h1v3h-1zM389 250h1v3h-1zM389 256h1v3h-1zM389 262h1v3h-1zM389 268h1v3h-1zM389 274h1v3h-1zM389 280h1v3h-1zM389 286h1v3h-1zM389 292h1v3h-1zM389 298h1v3h-1zM389 304h1v3h-1zM389 310h1v3h-1zM389 316h1v3h-1zM389 322h1v3h-1zM389 328h1v3h-1zM389 334h1v3h-1zM389 340h1v3h-1zM389 346h1v3h-1zM389 352h1v3h-1zM389 358h1v3h-1zM389 364h1v3h-1zM389 370h1v3h-1zM389 376h1v3h-1zM389 382h1v3h-1zM389 388h1v3h-1zM389 394h1v3h-1zM389 400h1v3h-1zM389 406h1v3h-1zM389 412h1v3h-1zM389 418h1v3h-1zM389 424h1v3h-1zM389 430h1v3h-1zM389 436h1v3h-1zM389 442h1v3h-1zM389 448h1v3h-1zM389 454h1v3h-1zM389 460h1v3h-1zM389 466h1v3h-1zM389 472h1v3h-1zM389 478h1v3h-1zM389 484h1v3h-1zM389 490h1v3h-1zM389 496h1v3h-1zM389 502h1v3h-1zM389 508h1v3h-1zM389 514h1v3h-1zM389 520h1v3h-1zM389 526h1v3h-1zM389 532h1v3h-1zM389 538h1v3h-1zM389 544h1v3h-1zM389 550h1v3h-1zM389 556h1v3h-1zM389 562h1v3h-1zM389 568h1v3h-1zM389 574h1v3h-1zM389 580h1v3h-1zM389 586h1v3h-1zM389 592h1v3h-1zM389 598h1v3h-1zM389 604h1v3h-1zM389 610h1v3h-1zM389 616h1v3h-1zM389 622h1v3h-1zM389 628h1v3h-1zM389 636h1v1h-1zM389 640h1v3h-1zM389 646h1v3h-1zM389 652h1v3h-1zM389 658h1v3h-1zM389 664h1v3h-1zM389 670h1v3h-1zM389 676h1v3h-1zM389 682h1v3h-1zM389 688h1v3h-1zM389 694h1v3h-1zM389 700h1v3h-1zM389 706h1v3h-1zM389 712h1v3h-1zM389 718h1v3h-1zM389 724h1v3h-1zM389 730h1v3h-1zM389 736h1v3h-1zM389 742h1v3h-1zM389 748h1v3h-1zM389 754h1v3h-1zM389 760h1v3h-1zM389 766h1v3h-1zM389 772h1v3h-1zM389 778h1v3h-1zM453 5h1v2h-1zM453 10h1v3h-1zM453 16h1v3h-1zM453 22h1v3h-1zM453 28h1v3h-1zM453 34h1v3h-1zM453 40h1v3h-1zM453 46h1v3h-1zM453 52h1v3h-1zM453 58h1v3h-1zM453 64h1v3h-1zM453 70h1v3h-1zM453 76h1v3h-1zM453 82h1v3h-1zM453 88h1v3h-1zM453 94h1v3h-1zM453 100h1v3h-1zM453 106h1v3h-1zM453 112h1v3h-1zM453 118h1v3h-1zM453 124h1v3h-1zM453 130h1v3h-1zM453 136h1v3h-1zM453 142h1v3h-1zM453 148h1v3h-1zM453 154h1v3h-1zM453 160h1v3h-1zM453 166h1v3h-1zM453 172h1v3h-1zM453 178h1v3h-1zM453 184h1v3h-1zM453 190h1v3h-1zM453 196h1v3h-1zM453 202h1v3h-1zM453 208h1v3h-1zM453 214h1v3h-1zM453 220h1v3h-1zM453 226h1v3h-1zM453 232h1v3h-1zM453 238h1v3h-1zM453 244h1v3h-1zM453 250h1v3h-1zM453 256h1v3h-1zM453 262h1v3h-1zM453 268h1v3h-1zM453 274h1v3h-1zM453 280h1v3h-1zM453 286h1v3h-1zM453 292h1v3h-1zM453 298h1v3h-1zM453 304h1v3h-1zM453 310h1v3h-1zM453 316h1v3h-1zM453 322h1v3h-1zM453 328h1v3h-1zM453 334h1v3h-1zM453 340h1v3h-1zM453 346h1v3h-1zM453 352h1v3h-1zM453 358h1v3h-1zM453 364h1v3h-1zM453 370h1v3h-1zM453 376h1v3h-1zM453 382h1v3h-1zM453 388h1v3h-1zM453 394h1v3h-1zM453 400h1v3h-1zM453 406h1v3h-1zM453 412h1v3h-1zM453 418h1v3h-1zM453 424h1v3h-1zM453 430h1v3h-1zM453 436h1v3h-1zM453 442h1v3h-1zM453 448h1v3h-1zM453 454h1v3h-1zM453 460h1v3h-1zM453 466h1v3h-1zM453 472h1v3h-1zM453 478h1v3h-1zM453 484h1v3h-1zM453 490h1v3h-1zM453 496h1v3h-1zM453 502h1v3h-1zM453 508h1v3h-1zM453 514h1v3h-1zM453 520h1v3h-1zM453 526h1v3h-1zM453 532h1v3h-1zM453 538h1v3h-1zM453 544h1v3h-1zM453 550h1v3h-1zM453 556h1v3h-1zM453 562h1v3h-1zM453 568h1v3h-1zM453 574h1v3h-1zM453 580h1v3h-1zM453 586h1v3h-1zM453 592h1v3h-1zM453 598h1v3h-1zM453 604h1v3h-1zM453 610h1v3h-1zM453 616h1v3h-1zM453 622h1v3h-1zM453 628h1v3h-1zM453 636h1v1h-1zM453 640h1v3h-1zM453 646h1v3h-1zM453 652h1v3h-1zM453 658h1v3h-1zM453 664h1v3h-1zM453 670h1v3h-1zM453 676h1v3h-1zM453 682h1v3h-1zM453 688h1v3h-1zM453 694h1v3h-1zM453 700h1v3h-1zM453 706h1v3h-1zM453 712h1v3h-1zM453 718h1v3h-1zM453 724h1v3h-1zM453 730h1v3h-1zM453 736h1v3h-1zM453 742h1v3h-1zM453 748h1v3h-1zM453 754h1v3h-1zM453 760h1v3h-1zM453 766h1v3h-1zM453 772h1v3h-1zM453 778h1v3h-1zM517 5h1v2h-1zM517 10h1v3h-1zM517 16h1v3h-1zM517 22h1v3h-1zM517 28h1v3h-1zM517 34h1v3h-1zM517 40h1v3h-1zM517 46h1v3h-1zM517 52h1v3h-1zM517 58h1v3h-1zM517 64h1v3h-1zM517 70h1v3h-1zM517 76h1v3h-1zM517 82h1v3h-1zM517 88h1v3h-1zM517 94h1v3h-1zM517 100h1v3h-1zM517 106h1v3h-1zM517 112h1v3h-1zM517 118h1v3h-1zM517 124h1v3h-1zM517 130h1v3h-1zM517 136h1v3h-1zM517 142h1v3h-1zM517 148h1v3h-1zM517 154h1v3h-1zM517 160h1v3h-1zM517 166h1v3h-1zM517 172h1v3h-1zM517 178h1v3h-1zM517 184h1v3h-1zM517 190h1v3h-1zM517 196h1v3h-1zM517 202h1v3h-1zM517 208h1v3h-1zM517 214h1v3h-1zM517 220h1v3h-1zM517 226h1v3h-1zM517 232h1v3h-1zM517 238h1v3h-1zM517 244h1v3h-1zM517 250h1v3h-1zM517 256h1v3h-1zM517 262h1v3h-1zM517 268h1v3h-1zM517 274h1v3h-1zM517 280h1v3h-1zM517 286h1v3h-1zM517 292h1v3h-1zM517 298h1v3h-1zM517 304h1v3h-1zM517 310h1v3h-1zM517 316h1v3h-1zM517 322h1v3h-1zM517 328h1v3h-1zM517 334h1v3h-1zM517 340h1v3h-1zM517 346h1v3h-1zM517 352h1v3h-1zM517 358h1v3h-1zM517 364h1v3h-1zM517 370h1v3h-1zM517 376h1v3h-1zM517 382h1v3h-1zM517 388h1v3h-1zM517 394h1v3h-1zM517 400h1v3h-1zM517 406h1v3h-1zM517 412h1v3h-1zM517 418h1v3h-1zM517 424h1v3h-1zM517 430h1v3h-1zM517 436h1v3h-1zM517 442h1v3h-1zM517 448h1v3h-1zM517 454h1v3h-1zM517 460h1v3h-1zM517 466h1v3h-1zM517 472h1v3h-1zM517 478h1v3h-1zM517 484h1v3h-1zM517 490h1v3h-1zM517 496h1v3h-1zM517 502h1v3h-1zM517 508h1v3h-1zM517 514h1v3h-1zM517 520h1v3h-1zM517 526h1v3h-1zM517 532h1v3h-1zM517 538h1v3h-1zM517 544h1v3h-1zM517 550h1v3h-1zM517 556h1v3h-1zM517 562h1v3h-1zM517 568h1v3h-1zM517 574h1v3h-1zM517 580h1v3h-1zM517 586h1v3h-1zM517 592h1v3h-1zM517 598h1v3h-1zM517 604h1v3h-1zM517 610h1v3h-1zM517 616h1v3h-1zM517 622h1v3h-1zM517 628h1v3h-1zM517 636h1v1h-1zM517 640h1v3h-1zM517 646h1v3h-1zM517 652h1v3h-1zM517 658h1v3h-1zM517 664h1v3h-1zM517 670h1v3h-1zM517 676h1v3h-1zM517 682h1v3h-1zM517 688h1v3h-1zM517 694h1v3h-1zM517 700h1v3h-1zM517 706h1v3h-1zM517 712h1v3h-1zM517 718h1v3h-1zM517 724h1v3h-1zM517 730h1v3h-1zM517 736h1v3h-1zM517 742h1v3h-1zM517 748h1v3h-1zM517 754h1v3h-1zM517 760h1v3h-1zM517 766h1v3h-1zM517 772h1v3h-1zM517 778h1v3h-1zM581 5h1v2h-1zM581 10h1v3h-1zM581 16h1v3h-1zM581 22h1v3h-1zM581 28h1v3h-1zM581 34h1v3h-1zM581 40h1v3h-1zM581 46h1v3h-1zM581 52h1v3h-1zM581 58h1v3h-1zM581 64h1v3h-1zM581 70h1v3h-1zM581 76h1v3h-1zM581 82h1v3h-1zM581 88h1v3h-1zM581 94h1v3h-1zM581 100h1v3h-1zM581 106h1v3h-1zM581 112h1v3h-1zM581 118h1v3h-1zM581 124h1v3h-1zM581 130h1v3h-1zM581 136h1v3h-1zM581 142h1v3h-1zM581 148h1v3h-1zM581 154h1v3h-1zM581 160h1v3h-1zM581 166h1v3h-1zM581 172h1v3h-1zM581 178h1v3h-1zM581 184h1v3h-1zM581 190h1v3h-1zM581 196h1v3h-1zM581 202h1v3h-1zM581 208h1v3h-1zM581 214h1v3h-1zM581 220h1v3h-1zM581 226h1v3h-1zM581 232h1v3h-1zM581 238h1v3h-1zM581 244h1v3h-1zM581 250h1v3h-1zM581 256h1v3h-1zM581 262h1v3h-1zM581 268h1v3h-1zM581 274h1v3h-1zM581 280h1v3h-1zM581 286h1v3h-1zM581 292h1v3h-1zM581 298h1v3h-1zM581 304h1v3h-1zM581 310h1v3h-1zM581 316h1v3h-1zM581 322h1v3h-1zM581 328h1v3h-1zM581 334h1v3h-1zM581 340h1v3h-1zM581 346h1v3h-1zM581 352h1v3h-1zM581 358h1v3h-1zM581 364h1v3h-1zM581 370h1v3h-1zM581 376h1v3h-1zM581 382h1v3h-1zM581 388h1v3h-1zM581 394h1v3h-1zM581 400h1v3h-1zM581 406h1v3h-1zM581 412h1v3h-1zM581 418h1v3h-1zM581 424h1v3h-1zM581 430h1v3h-1zM581 436h1v3h-1zM581 442h1v3h-1zM581 448h1v3h-1zM581 454h1v3h-1zM581 460h1v3h-1zM581 466h1v3h-1zM581 472h1v3h-1zM581 478h1v3h-1zM581 484h1v3h-1zM581 490h1v3h-1zM581 496h1v3h-1zM581 502h1v3h-1zM581 508h1v3h-1zM581 514h1v3h-1zM581 520h1v3h-1zM581 526h1v3h-1zM581 532h1v3h-1zM581 538h1v3h-1zM581 544h1v3h-1zM581 550h1v3h-1zM581 556h1v3h-1zM581 562h1v3h-1zM581 568h1v3h-1zM581 574h1v3h-1zM581 580h1v3h-1zM581 586h1v3h-1zM581 592h1v3h-1zM581 598h1v3h-1zM581 604h1v3h-1zM581 610h1v3h-1zM581 616h1v3h-1zM581 622h1v3h-1zM581 628h1v3h-1zM581 636h1v1h-1zM581 640h1v3h-1zM581 646h1v3h-1zM581 652h1v3h-1zM581 658h1v3h-1zM581 664h1v3h-1zM581 670h1v3h-1zM581 676h1v3h-1zM581 682h1v3h-1zM581 688h1v3h-1zM581 694h1v3h-1zM581 700h1v3h-1zM581 706h1v3h-1zM581 712h1v3h-1zM581 718h1v3h-1zM581 724h1v3h-1zM581 730h1v3h-1zM581 736h1v3h-1zM581 742h1v3h-1zM581 748h1v3h-1zM581 754h1v3h-1zM581 760h1v3h-1zM581 766h1v3h-1zM581 772h1v3h-1zM581 778h1v3h-1zM645 5h1v2h-1zM645 10h1v3h-1zM645 16h1v3h-1zM645 22h1v3h-1zM645 28h1v3h-1zM645 34h1v3h-1zM645 40h1v3h-1zM645 46h1v3h-1zM645 52h1v3h-1zM645 58h1v3h-1zM645 64h1v3h-1zM645 70h1v3h-1zM645 76h1v3h-1zM645 82h1v3h-1zM645 88h1v3h-1zM645 94h1v3h-1zM645 100h1v3h-1zM645 106h1v3h-1zM645 112h1v3h-1zM645 118h1v3h-1zM645 124h1v3h-1zM645 130h1v3h-1zM645 136h1v3h-1zM645 142h1v3h-1zM645 148h1v3h-1zM645 154h1v3h-1zM645 160h1v3h-1zM645 166h1v3h-1zM645 172h1v3h-1zM645 178h1v3h-1zM645 184h1v3h-1zM645 190h1v3h-1zM645 196h1v3h-1zM645 202h1v3h-1zM645 208h1v3h-1zM645 214h1v3h-1zM645 220h1v3h-1zM645 226h1v3h-1zM645 232h1v3h-1zM645 238h1v3h-1zM645 244h1v3h-1zM645 250h1v3h-1zM645 256h1v3h-1zM645 262h1v3h-1zM645 268h1v3h-1zM645 274h1v3h-1zM645 280h1v3h-1zM645 286h1v3h-1zM645 292h1v3h-1zM645 298h1v3h-1zM645 304h1v3h-1zM645 310h1v3h-1zM645 316h1v3h-1zM645 322h1v3h-1zM645 328h1v3h-1zM645 334h1v3h-1zM645 340h1v3h-1zM645 346h1v3h-1zM645 352h1v3h-1zM645 358h1v3h-1zM645 364h1v3h-1zM645 370h1v3h-1zM645 376h1v3h-1zM645 382h1v3h-1zM645 388h1v3h-1zM645 394h1v3h-1zM645 400h1v3h-1zM645 406h1v3h-1zM645 412h1v3h-1zM645 418h1v3h-1zM645 424h1v3h-1zM645 430h1v3h-1zM645 436h1v3h-1zM645 442h1v3h-1zM645 448h1v3h-1zM645 454h1v3h-1zM645 460h1v3h-1zM645 466h1v3h-1zM645 472h1v3h-1zM645 478h1v3h-1zM645 484h1v3h-1zM645 490h1v3h-1zM645 496h1v3h-1zM645 502h1v3h-1zM645 508h1v3h-1zM645 514h1v3h-1zM645 520h1v3h-1zM645 526h1v3h-1zM645 532h1v3h-1zM645 538h1v3h-1zM645 544h1v3h-1zM645 550h1v3h-1zM645 556h1v3h-1zM645 562h1v3h-1zM645 568h1v3h-1zM645 574h1v3h-1zM645 580h1v3h-1zM645 586h1v3h-1zM645 592h1v3h-1zM645 598h1v3h-1zM645 604h1v3h-1zM645 610h1v3h-1zM645 616h1v3h-1zM645 622h1v3h-1zM645 628h1v3h-1zM645 636h1v1h-1zM645 640h1v3h-1zM645 646h1v3h-1zM645 652h1v3h-1zM645 658h1v3h-1zM645 664h1v3h-1zM645 670h1v3h-1zM645 676h1v3h-1zM645 682h1v3h-1zM645 688h1v3h-1zM645 694h1v3h-1zM645 700h1v3h-1zM645 706h1v3h-1zM645 712h1v3h-1zM645 718h1v3h-1zM645 724h1v3h-1zM645 730h1v3h-1zM645 736h1v3h-1zM645 742h1v3h-1zM645 748h1v3h-1zM645 754h1v3h-1zM645 760h1v3h-1zM645 766h1v3h-1zM645 772h1v3h-1zM645 778h1v3h-1zM709 5h1v2h-1zM709 10h1v3h-1zM709 16h1v3h-1zM709 22h1v3h-1zM709 28h1v3h-1zM709 34h1v3h-1zM709 40h1v3h-1zM709 46h1v3h-1zM709 52h1v3h-1zM709 58h1v3h-1zM709 64h1v3h-1zM709 70h1v3h-1zM709 76h1v3h-1zM709 82h1v3h-1zM709 88h1v3h-1zM709 94h1v3h-1zM709 100h1v3h-1zM709 106h1v3h-1zM709 112h1v3h-1zM709 118h1v3h-1zM709 124h1v3h-1zM709 130h1v3h-1zM709 136h1v3h-1zM709 142h1v3h-1zM709 148h1v3h-1zM709 154h1v3h-1zM709 160h1v3h-1zM709 166h1v3h-1zM709 172h1v3h-1zM709 178h1v3h-1zM709 184h1v3h-1zM709 190h1v3h-1zM709 196h1v3h-1zM709 202h1v3h-1zM709 208h1v3h-1zM709 214h1v3h-1zM709 220h1v3h-1zM709 226h1v3h-1zM709 232h1v3h-1zM709 238h1v3h-1zM709 244h1v3h-1zM709 250h1v3h-1zM709 256h1v3h-1zM709 262h1v3h-1zM709 268h1v3h-1zM709 274h1v3h-1zM709 280h1v3h-1zM709 286h1v3h-1zM709 292h1v3h-1zM709 298h1v3h-1zM709 304h1v3h-1zM709 310h1v3h-1zM709 316h1v3h-1zM709 322h1v3h-1zM709 328h1v3h-1zM709 334h1v3h-1zM709 340h1v3h-1zM709 346h1v3h-1zM709 352h1v3h-1zM709 358h1v3h-1zM709 364h1v3h-1zM709 370h1v3h-1zM709 376h1v3h-1zM709 382h1v3h-1zM709 388h1v3h-1zM709 394h1v3h-1zM709 400h1v3h-1zM709 406h1v3h-1zM709 412h1v3h-1zM709 418h1v3h-1zM709 424h1v3h-1zM709 430h1v3h-1zM709 436h1v3h-1zM709 442h1v3h-1zM709 448h1v3h-1zM709 454h1v3h-1zM709 460h1v3h-1zM709 466h1v3h-1zM709 472h1v3h-1zM709 478h1v3h-1zM709 484h1v3h-1zM709 490h1v3h-1zM709 496h1v3h-1zM709 502h1v3h-1zM709 508h1v3h-1zM709 514h1v3h-1zM709 520h1v3h-1zM709 526h1v3h-1zM709 532h1v3h-1zM709 538h1v3h-1zM709 544h1v3h-1zM709 550h1v3h-1zM709 556h1v3h-1zM709 562h1v3h-1zM709 568h1v3h-1zM709 574h1v3h-1zM709 580h1v3h-1zM709 586h1v3h-1zM709 592h1v3h-1zM709 598h1v3h-1zM709 604h1v3h-1zM709 610h1v3h-1zM709 616h1v3h-1zM709 622h1v3h-1zM709 628h1v3h-1zM709 636h1v1h-1zM709 640h1v3h-1zM709 646h1v3h-1zM709 652h1v3h-1zM709 658h1v3h-1zM709 664h1v3h-1zM709 670h1v3h-1zM709 676h1v3h-1zM709 682h1v3h-1zM709 688h1v3h-1zM709 694h1v3h-1zM709 700h1v3h-1zM709 706h1v3h-1zM709 712h1v3h-1zM709 718h1v3h-1zM709 724h1v3h-1zM709 730h1v3h-1zM709 736h1v3h-1zM709 742h1v3h-1zM709 748h1v3h-1zM709 754h1v3h-1zM709 760h1v3h-1zM709 766h1v3h-1zM709 772h1v3h-1zM709 778h1v3h-1zM773 5h1v2h-1zM773 10h1v3h-1zM773 16h1v3h-1zM773 22h1v3h-1zM773 28h1v3h-1zM773 34h1v3h-1zM773 40h1v3h-1zM773 46h1v3h-1zM773 52h1v3h-1zM773 58h1v3h-1zM773 64h1v3h-1zM773 70h1v3h-1zM773 76h1v3h-1zM773 82h1v3h-1zM773 88h1v3h-1zM773 94h1v3h-1zM773 100h1v3h-1zM773 106h1v3h-1zM773 112h1v3h-1zM773 118h1v3h-1zM773 124h1v3h-1zM773 130h1v3h-1zM773 136h1v3h-1zM773 142h1v3h-1zM773 148h1v3h-1zM773 154h1v3h-1zM773 160h1v3h-1zM773 166h1v3h-1zM773 172h1v3h-1zM773 178h1v3h-1zM773 184h1v3h-1zM773 190h1v3h-1zM773 196h1v3h-1zM773 202h1v3h-1zM773 208h1v3h-1zM773 214h1v3h-1zM773 220h1v3h-1zM773 226h1v3h-1zM773 232h1v3h-1zM773 238h1v3h-1zM773 244h1v3h-1zM773 250h1v3h-1zM773 256h1v3h-1zM773 262h1v3h-1zM773 268h1v3h-1zM773 274h1v3h-1zM773 280h1v3h-1zM773 286h1v3h-1zM773 292h1v3h-1zM773 298h1v3h-1zM773 304h1v3h-1zM773 310h1v3h-1zM773 316h1v3h-1zM773 322h1v3h-1zM773 328h1v3h-1zM773 334h1v3h-1zM773 340h1v3h-1zM773 346h1v3h-1zM773 352h1v3h-1zM773 358h1v3h-1zM773 364h1v3h-1zM773 370h1v3h-1zM773 376h1v3h-1zM773 382h1v3h-1zM773 388h1v3h-1zM773 394h1v3h-1zM773 400h1v3h-1zM773 406h1v3h-1zM773 412h1v3h-1zM773 418h1v3h-1zM773 424h1v3h-1zM773 430h1v3h-1zM773 436h1v3h-1zM773 442h1v3h-1zM773 448h1v3h-1zM773 454h1v3h-1zM773 460h1v3h-1zM773 466h1v3h-1zM773 472h1v3h-1zM773 478h1v3h-1zM773 484h1v3h-1zM773 490h1v3h-1zM773 496h1v3h-1zM773 502h1v3h-1zM773 508h1v3h-1zM773 514h1v3h-1zM773 520h1v3h-1zM773 526h1v3h-1zM773 532h1v3h-1zM773 538h1v3h-1zM773 544h1v3h-1zM773 550h1v3h-1zM773 556h1v3h-1zM773 562h1v3h-1zM773 568h1v3h-1zM773 574h1v3h-1zM773 580h1v3h-1zM773 586h1v3h-1zM773 592h1v3h-1zM773 598h1v3h-1zM773 604h1v3h-1zM773 610h1v3h-1zM773 616h1v3h-1zM773 622h1v3h-1zM773 628h1v3h-1zM773 636h1v1h-1zM773 640h1v3h-1zM773 646h1v3h-1zM773 652h1v3h-1zM773 658h1v3h-1zM773 664h1v3h-1zM773 670h1v3h-1zM773 676h1v3h-1zM773 682h1v3h-1zM773 688h1v3h-1zM773 694h1v3h-1zM773 700h1v3h-1zM773 706h1v3h-1zM773 712h1v3h-1zM773 718h1v3h-1zM773 724h1v3h-1zM773 730h1v3h-1zM773 736h1v3h-1zM773 742h1v3h-1zM773 748h1v3h-1zM773 754h1v3h-1zM773 760h1v3h-1zM773 766h1v3h-1zM773 772h1v3h-1zM773 778h1v3h-1zM837 5h1v2h-1zM837 10h1v3h-1zM837 16h1v3h-1zM837 22h1v3h-1zM837 28h1v3h-1zM837 34h1v3h-1zM837 40h1v3h-1zM837 46h1v3h-1zM837 52h1v3h-1zM837 58h1v3h-1zM837 64h1v3h-1zM837 70h1v3h-1zM837 76h1v3h-1zM837 82h1v3h-1zM837 88h1v3h-1zM837 94h1v3h-1zM837 100h1v3h-1zM837 106h1v3h-1zM837 112h1v3h-1zM837 118h1v3h-1zM837 124h1v3h-1zM837 130h1v3h-1zM837 136h1v3h-1zM837 142h1v3h-1zM837 148h1v3h-1zM837 154h1v3h-1zM837 160h1v3h-1zM837 166h1v3h-1zM837 172h1v3h-1zM837 178h1v3h-1zM837 184h1v3h-1zM837 190h1v3h-1zM837 196h1v3h-1zM837 202h1v3h-1zM837 208h1v3h-1zM837 214h1v3h-1zM837 220h1v3h-1zM837 226h1v3h-1zM837 232h1v3h-1zM837 238h1v3h-1zM837 244h1v3h-1zM837 250h1v3h-1zM837 256h1v3h-1zM837 262h1v3h-1zM837 268h1v3h-1zM837 274h1v3h-1zM837 280h1v3h-1zM837 286h1v3h-1zM837 292h1v3h-1zM837 298h1v3h-1zM837 304h1v3h-1zM837 310h1v3h-1zM837 316h1v3h-1zM837 322h1v3h-1zM837 328h1v3h-1zM837 334h1v3h-1zM837 340h1v3h-1zM837 346h1v3h-1zM837 352h1v3h-1zM837 358h1v3h-1zM837 364h1v3h-1zM837 370h1v3h-1zM837 376h1v3h-1zM837 382h1v3h-1zM837 388h1v3h-1zM837 394h1v3h-1zM837 400h1v3h-1zM837 406h1v3h-1zM837 412h1v3h-1zM837 418h1v3h-1zM837 424h1v3h-1zM837 430h1v3h-1zM837 436h1v3h-1zM837 442h1v3h-1zM837 448h1v3h-1zM837 454h1v3h-1zM837 460h1v3h-1zM837 466h1v3h-1zM837 472h1v3h-1zM837 478h1v3h-1zM837 484h1v3h-1zM837 490h1v3h-1zM837 496h1v3h-1zM837 502h1v3h-1zM837 508h1v3h-1zM837 514h1v3h-1zM837 520h1v3h-1zM837 526h1v3h-1zM837 532h1v3h-1zM837 538h1v3h-1zM837 544h1v3h-1zM837 550h1v3h-1zM837 556h1v3h-1zM837 562h1v3h-1zM837 568h1v3h-1zM837 574h1v3h-1zM837 580h1v3h-1zM837 586h1v3h-1zM837 592h1v3h-1zM837 598h1v3h-1zM837 604h1v3h-1zM837 610h1v3h-1zM837 616h1v3h-1zM837 622h1v3h-1zM837 628h1v3h-1zM837 636h1v1h-1zM837 640h1v3h-1zM837 646h1v3h-1zM837 652h1v3h-1zM837 658h1v3h-1zM837 664h1v3h-1zM837 670h1v3h-1zM837 676h1v3h-1zM837 682h1v3h-1zM837 688h1v3h-1zM837 694h1v3h-1zM837 700h1v3h-1zM837 706h1v3h-1zM837 712h1v3h-1zM837 718h1v3h-1zM837 724h1v3h-1zM837 730h1v3h-1zM837 736h1v3h-1zM837 742h1v3h-1zM837 748h1v3h-1zM837 754h1v3h-1zM837 760h1v3h-1zM837 766h1v3h-1zM837 772h1v3h-1zM837 778h1v3h-1zM901 5h1v2h-1zM901 10h1v3h-1zM901 16h1v3h-1zM901 22h1v3h-1zM901 28h1v3h-1zM901 34h1v3h-1zM901 40h1v3h-1zM901 46h1v3h-1zM901 52h1v3h-1zM901 58h1v3h-1zM901 64h1v3h-1zM901 70h1v3h-1zM901 76h1v3h-1zM901 82h1v3h-1zM901 88h1v3h-1zM901 94h1v3h-1zM901 100h1v3h-1zM901 106h1v3h-1zM901 112h1v3h-1zM901 118h1v3h-1zM901 124h1v3h-1zM901 130h1v3h-1zM901 136h1v3h-1zM901 142h1v3h-1zM901 148h1v3h-1zM901 154h1v3h-1zM901 160h1v3h-1zM901 166h1v3h-1zM901 172h1v3h-1zM901 178h1v3h-1zM901 184h1v3h-1zM901 190h1v3h-1zM901 196h1v3h-1zM901 202h1v3h-1zM901 208h1v3h-1zM901 214h1v3h-1zM901 220h1v3h-1zM901 226h1v3h-1zM901 232h1v3h-1zM901 238h1v3h-1zM901 244h1v3h-1zM901 250h1v3h-1zM901 256h1v3h-1zM901 262h1v3h-1zM901 268h1v3h-1zM901 274h1v3h-1zM901 280h1v3h-1zM901 286h1v3h-1zM901 292h1v3h-1zM901 298h1v3h-1zM901 304h1v3h-1zM901 310h1v3h-1zM901 316h1v3h-1zM901 322h1v3h-1zM901 328h1v3h-1zM901 334h1v3h-1zM901 340h1v3h-1zM901 346h1v3h-1zM901 352h1v3h-1zM901 358h1v3h-1zM901 364h1v3h-1zM901 370h1v3h-1zM901 376h1v3h-1zM901 382h1v3h-1zM901 388h1v3h-1zM901 394h1v3h-1zM901 400h1v3h-1zM901 406h1v3h-1zM901 412h1v3h-1zM901 418h1v3h-1zM901 424h1v3h-1zM901 430h1v3h-1zM901 436h1v3h-1zM901 442h1v3h-1zM901 448h1v3h-1zM901 454h1v3h-1zM901 460h1v3h-1zM901 466h1v3h-1zM901 472h1v3h-1zM901 478h1v3h-1zM901 484h1v3h-1zM901 490h1v3h-1zM901 496h1v3h-1zM901 502h1v3h-1zM901 508h1v3h-1zM901 514h1v3h-1zM901 520h1v3h-1zM901 526h1v3h-1zM901 532h1v3h-1zM901 538h1v3h-1zM901 544h1v3h-1zM901 550h1v3h-1zM901 556h1v3h-1zM901 562h1v3h-1zM901 568h1v3h-1zM901 574h1v3h-1zM901 580h1v3h-1zM901 586h1v3h-1zM901 592h1v3h-1zM901 598h1v3h-1zM901 604h1v3h-1zM901 610h1v3h-1zM901 616h1v3h-1zM901 622h1v3h-1zM901 628h1v3h-1zM901 636h1v1h-1zM901 640h1v3h-1zM901 646h1v3h-1zM901 652h1v3h-1zM901 658h1v3h-1zM901 664h1v3h-1zM901 670h1v3h-1zM901 676h1v3h-1zM901 682h1v3h-1zM901 688h1v3h-1zM901 694h1v3h-1zM901 700h1v3h-1zM901 706h1v3h-1zM901 712h1v3h-1zM901 718h1v3h-1zM901 724h1v3h-1zM901 730h1v3h-1zM901 736h1v3h-1zM901 742h1v3h-1zM901 748h1v3h-1zM901 754h1v3h-1zM901 760h1v3h-1zM901 766h1v3h-1zM901 772h1v3h-1zM901 778h1v3h-1zM965 5h1v2h-1zM965 10h1v3h-1zM965 16h1v3h-1zM965 22h1v3h-1zM965 28h1v3h-1zM965 34h1v3h-1zM965 40h1v3h-1zM965 46h1v3h-1zM965 52h1v3h-1zM965 58h1v3h-1zM965 64h1v3h-1zM965 70h1v3h-1zM965 76h1v3h-1zM965 82h1v3h-1zM965 88h1v3h-1zM965 94h1v3h-1zM965 100h1v3h-1zM965 106h1v3h-1zM965 112h1v3h-1zM965 118h1v3h-1zM965 124h1v3h-1zM965 130h1v3h-1zM965 136h1v3h-1zM965 142h1v3h-1zM965 148h1v3h-1zM965 154h1v3h-1zM965 160h1v3h-1zM965 166h1v3h-1zM965 172h1v3h-1zM965 178h1v3h-1zM965 184h1v3h-1zM965 190h1v3h-1zM965 196h1v3h-1zM965 202h1v3h-1zM965 208h1v3h-1zM965 214h1v3h-1zM965 220h1v3h-1zM965 226h1v3h-1zM965 232h1v3h-1zM965 238h1v3h-1zM965 244h1v3h-1zM965 250h1v3h-1zM965 256h1v3h-1zM965 262h1v3h-1zM965 268h1v3h-1zM965 274h1v3h-1zM965 280h1v3h-1zM965 286h1v3h-1zM965 292h1v3h-1zM965 298h1v3h-1zM965 304h1v3h-1zM965 310h1v3h-1zM965 316h1v3h-1zM965 322h1v3h-1zM965 328h1v3h-1zM965 334h1v3h-1zM965 340h1v3h-1zM965 346h1v3h-1zM965 352h1v3h-1zM965 358h1v3h-1zM965 364h1v3h-1zM965 370h1v3h-1zM965 376h1v3h-1zM965 382h1v3h-1zM965 388h1v3h-1zM965 394h1v3h-1zM965 400h1v3h-1zM965 406h1v3h-1zM965 412h1v3h-1zM965 418h1v3h-1zM965 424h1v3h-1zM965 430h1v3h-1zM965 436h1v3h-1zM965 442h1v3h-1zM965 448h1v3h-1zM965 454h1v3h-1zM965 460h1v3h-1zM965 466h1v3h-1zM965 472h1v3h-1zM965 478h1v3h-1zM965 484h1v3h-1zM965 490h1v3h-1zM965 496h1v3h-1zM965 502h1v3h-1zM965 508h1v3h-1zM965 514h1v3h-1zM965 520h1v3h-1zM965 526h1v3h-1zM965 532h1v3h-1zM965 538h1v3h-1zM965 544h1v3h-1zM965 550h1v3h-1zM965 556h1v3h-1zM965 562h1v3h-1zM965 568h1v3h-1zM965 574h1v3h-1zM965 580h1v3h-1zM965 586h1v3h-1zM965 592h1v3h-1zM965 598h1v3h-1zM965 604h1v3h-1zM965 610h1v3h-1zM965 616h1v3h-1zM965 622h1v3h-1zM965 628h1v3h-1zM965 636h1v1h-1zM965 640h1v3h-1zM965 646h1v3h-1zM965 652h1v3h-1zM965 658h1v3h-1zM965 664h1v3h-1zM965 670h1v3h-1zM965 676h1v3h-1zM965 682h1v3h-1zM965 688h1v3h-1zM965 694h1v3h-1zM965 700h1v3h-1zM965 706h1v3h-1zM965 712h1v3h-1zM965 718h1v3h-1zM965 724h1v3h-1zM965 730h1v3h-1zM965 736h1v3h-1zM965 742h1v3h-1zM965 748h1v3h-1zM965 754h1v3h-1zM965 760h1v3h-1zM965 766h1v3h-1zM965 772h1v3h-1zM965 778h1v3h-1zM1029 5h1v2h-1zM1029 10h1v3h-1zM1029 16h1v3h-1zM1029 22h1v3h-1zM1029 28h1v3h-1zM1029 34h1v3h-1zM1029 40h1v3h-1zM1029 46h1v3h-1zM1029 52h1v3h-1zM1029 58h1v3h-1zM1029 64h1v3h-1zM1029 70h1v3h-1zM1029 76h1v3h-1zM1029 82h1v3h-1zM1029 88h1v3h-1zM1029 94h1v3h-1zM1029 100h1v3h-1zM1029 106h1v3h-1zM1029 112h1v3h-1zM1029 118h1v3h-1zM1029 124h1v3h-1zM1029 130h1v3h-1zM1029 136h1v3h-1zM1029 142h1v3h-1zM1029 148h1v3h-1zM1029 154h1v3h-1zM1029 160h1v3h-1zM1029 166h1v3h-1zM1029 172h1v3h-1zM1029 178h1v3h-1zM1029 184h1v3h-1zM1029 190h1v3h-1zM1029 196h1v3h-1zM1029 202h1v3h-1zM1029 208h1v3h-1zM1029 214h1v3h-1zM1029 220h1v3h-1zM1029 226h1v3h-1zM1029 232h1v3h-1zM1029 238h1v3h-1zM1029 244h1v3h-1zM1029 250h1v3h-1zM1029 256h1v3h-1zM1029 262h1v3h-1zM1029 268h1v3h-1zM1029 274h1v3h-1zM1029 280h1v3h-1zM1029 286h1v3h-1zM1029 292h1v3h-1zM1029 298h1v3h-1zM1029 304h1v3h-1zM1029 310h1v3h-1zM1029 316h1v3h-1zM1029 322h1v3h-1zM1029 328h1v3h-1zM1029 334h1v3h-1zM1029 340h1v3h-1zM1029 346h1v3h-1zM1029 352h1v3h-1zM1029 358h1v3h-1zM1029 364h1v3h-1zM1029 370h1v3h-1zM1029 376h1v3h-1zM1029 382h1v3h-1zM1029 388h1v3h-1zM1029 394h1v3h-1zM1029 400h1v3h-1zM1029 406h1v3h-1zM1029 412h1v3h-1zM1029 418h1v3h-1zM1029 424h1v3h-1zM1029 430h1v3h-1zM1029 436h1v3h-1zM1029 442h1v3h-1zM1029 448h1v3h-1zM1029 454h1v3h-1zM1029 460h1v3h-1zM1029 466h1v3h-1zM1029 472h1v3h-1zM1029 478h1v3h-1zM1029 484h1v3h-1zM1029 490h1v3h-1zM1029 496h1v3h-1zM1029 502h1v3h-1zM1029 508h1v3h-1zM1029 514h1v3h-1zM1029 520h1v3h-1zM1029 526h1v3h-1zM1029 532h1v3h-1zM1029 538h1v3h-1zM1029 544h1v3h-1zM1029 550h1v3h-1zM1029 556h1v3h-1zM1029 562h1v3h-1zM1029 568h1v3h-1zM1029 574h1v3h-1zM1029 580h1v3h-1zM1029 586h1v3h-1zM1029 592h1v3h-1zM1029 598h1v3h-1zM1029 604h1v3h-1zM1029 610h1v3h-1zM1029 616h1v3h-1zM1029 622h1v3h-1zM1029 628h1v3h-1zM1029 636h1v1h-1zM1029 640h1v3h-1zM1029 646h1v3h-1zM1029 652h1v3h-1zM1029 658h1v3h-1zM1029 664h1v3h-1zM1029 670h1v3h-1zM1029 676h1v3h-1zM1029 682h1v3h-1zM1029 688h1v3h-1zM1029 694h1v3h-1zM1029 700h1v3h-1zM1029 706h1v3h-1zM1029 712h1v3h-1zM1029 718h1v3h-1zM1029 724h1v3h-1zM1029 730h1v3h-1zM1029 736h1v3h-1zM1029 742h1v3h-1zM1029 748h1v3h-1zM1029 754h1v3h-1zM1029 760h1v3h-1zM1029 766h1v3h-1zM1029 772h1v3h-1zM1029 778h1v3h-1zM1093 5h1v2h-1zM1093 10h1v3h-1zM1093 16h1v3h-1zM1093 22h1v3h-1zM1093 28h1v3h-1zM1093 34h1v3h-1zM1093 40h1v3h-1zM1093 46h1v3h-1zM1093 52h1v3h-1zM1093 58h1v3h-1zM1093 64h1v3h-1zM1093 70h1v3h-1zM1093 76h1v3h-1zM1093 82h1v3h-1zM1093 88h1v3h-1zM1093 94h1v3h-1zM1093 100h1v3h-1zM1093 106h1v3h-1zM1093 112h1v3h-1zM1093 118h1v3h-1zM1093 124h1v3h-1zM1093 130h1v3h-1zM1093 136h1v3h-1zM1093 142h1v3h-1zM1093 148h1v3h-1zM1093 154h1v3h-1zM1093 160h1v3h-1zM1093 166h1v3h-1zM1093 172h1v3h-1zM1093 178h1v3h-1zM1093 184h1v3h-1zM1093 190h1v3h-1zM1093 196h1v3h-1zM1093 202h1v3h-1zM1093 208h1v3h-1zM1093 214h1v3h-1zM1093 220h1v3h-1zM1093 226h1v3h-1zM1093 232h1v3h-1zM1093 238h1v3h-1zM1093 244h1v3h-1zM1093 250h1v3h-1zM1093 256h1v3h-1zM1093 262h1v3h-1zM1093 268h1v3h-1zM1093 274h1v3h-1zM1093 280h1v3h-1zM1093 286h1v3h-1zM1093 292h1v3h-1zM1093 298h1v3h-1zM1093 304h1v3h-1zM1093 310h1v3h-1zM1093 316h1v3h-1zM1093 322h1v3h-1zM1093 328h1v3h-1zM1093 334h1v3h-1zM1093 340h1v3h-1zM1093 346h1v3h-1zM1093 352h1v3h-1zM1093 358h1v3h-1zM1093 364h1v3h-1zM1093 370h1v3h-1zM1093 376h1v3h-1zM1093 382h1v3h-1zM1093 388h1v3h-1zM1093 394h1v3h-1zM1093 400h1v3h-1zM1093 406h1v3h-1zM1093 412h1v3h-1zM1093 418h1v3h-1zM1093 424h1v3h-1zM1093 430h1v3h-1zM1093 436h1v3h-1zM1093 442h1v3h-1zM1093 448h1v3h-1zM1093 454h1v3h-1zM1093 460h1v3h-1zM1093 466h1v3h-1zM1093 472h1v3h-1zM1093 478h1v3h-1zM1093 484h1v3h-1zM1093 490h1v3h-1zM1093 496h1v3h-1zM1093 502h1v3h-1zM1093 508h1v3h-1zM1093 514h1v3h-1zM1093 520h1v3h-1zM1093 526h1v3h-1zM1093 532h1v3h-1zM1093 538h1v3h-1zM1093 544h1v3h-1zM1093 550h1v3h-1zM1093 556h1v3h-1zM1093 562h1v3h-1zM1093 568h1v3h-1zM1093 574h1v3h-1zM1093 580h1v3h-1zM1093 586h1v3h-1zM1093 592h1v3h-1zM1093 598h1v3h-1zM1093 604h1v3h-1zM1093 610h1v3h-1zM1093 616h1v3h-1zM1093 622h1v3h-1zM1093 628h1v3h-1zM1093 636h1v1h-1zM1093 640h1v3h-1zM1093 646h1v3h-1zM1093 652h1v3h-1zM1093 658h1v3h-1zM1093 664h1v3h-1zM1093 670h1v3h-1zM1093 676h1v3h-1zM1093 682h1v3h-1zM1093 688h1v3h-1zM1093 694h1v3h-1zM1093 700h1v3h-1zM1093 706h1v3h-1zM1093 712h1v3h-1zM1093 718h1v3h-1zM1093 724h1v3h-1zM1093 730h1v3h-1zM1093 736h1v3h-1zM1093 742h1v3h-1zM1093 748h1v3h-1zM1093 754h1v3h-1zM1093 760h1v3h-1zM1093 766h1v3h-1zM1093 772h1v3h-1zM1093 778h1v3h-1zM1157 5h1v2h-1zM1157 10h1v3h-1zM1157 16h1v3h-1zM1157 22h1v3h-1zM1157 28h1v3h-1zM1157 34h1v3h-1zM1157 40h1v3h-1zM1157 46h1v3h-1zM1157 52h1v3h-1zM1157 58h1v3h-1zM1157 64h1v3h-1zM1157 70h1v3h-1zM1157 76h1v3h-1zM1157 82h1v3h-1zM1157 88h1v3h-1zM1157 94h1v3h-1zM1157 100h1v3h-1zM1157 106h1v3h-1zM1157 112h1v3h-1zM1157 118h1v3h-1zM1157 124h1v3h-1zM1157 130h1v3h-1zM1157 136h1v3h-1zM1157 142h1v3h-1zM1157 148h1v3h-1zM1157 154h1v3h-1zM1157 160h1v3h-1zM1157 166h1v3h-1zM1157 172h1v3h-1zM1157 178h1v3h-1zM1157 184h1v3h-1zM1157 190h1v3h-1zM1157 196h1v3h-1zM1157 202h1v3h-1zM1157 208h1v3h-1zM1157 214h1v3h-1zM1157 220h1v3h-1zM1157 226h1v3h-1zM1157 232h1v3h-1zM1157 238h1v3h-1zM1157 244h1v3h-1zM1157 250h1v3h-1zM1157 256h1v3h-1zM1157 262h1v3h-1zM1157 268h1v3h-1zM1157 274h1v3h-1zM1157 280h1v3h-1zM1157 286h1v3h-1zM1157 292h1v3h-1zM1157 298h1v3h-1zM1157 304h1v3h-1zM1157 310h1v3h-1zM1157 316h1v3h-1zM1157 322h1v3h-1zM1157 328h1v3h-1zM1157 334h1v3h-1zM1157 340h1v3h-1zM1157 346h1v3h-1zM1157 352h1v3h-1zM1157 358h1v3h-1zM1157 364h1v3h-1zM1157 370h1v3h-1zM1157 376h1v3h-1zM1157 382h1v3h-1zM1157 388h1v3h-1zM1157 394h1v3h-1zM1157 400h1v3h-1zM1157 406h1v3h-1zM1157 412h1v3h-1zM1157 418h1v3h-1zM1157 424h1v3h-1zM1157 430h1v3h-1zM1157 436h1v3h-1zM1157 442h1v3h-1zM1157 448h1v3h-1zM1157 454h1v3h-1zM1157 460h1v3h-1zM1157 466h1v3h-1zM1157 472h1v3h-1zM1157 478h1v3h-1zM1157 484h1v3h-1zM1157 490h1v3h-1zM1157 496h1v3h-1zM1157 502h1v3h-1zM1157 508h1v3h-1zM1157 514h1v3h-1zM1157 520h1v3h-1zM1157 526h1v3h-1zM1157 532h1v3h-1zM1157 538h1v3h-1zM1157 544h1v3h-1zM1157 550h1v3h-1zM1157 556h1v3h-1zM1157 562h1v3h-1zM1157 568h1v3h-1zM1157 574h1v3h-1zM1157 580h1v3h-1zM1157 586h1v3h-1zM1157 592h1v3h-1zM1157 598h1v3h-1zM1157 604h1v3h-1zM1157 610h1v3h-1zM1157 616h1v3h-1zM1157 622h1v3h-1zM1157 628h1v3h-1zM1157 636h1v1h-1zM1157 640h1v3h-1zM1157 646h1v3h-1zM1157 652h1v3h-1zM1157 658h1v3h-1zM1157 664h1v3h-1zM1157 670h1v3h-1zM1157 676h1v3h-1zM1157 682h1v3h-1zM1157 688h1v3h-1zM1157 694h1v3h-1zM1157 700h1v3h-1zM1157 706h1v3h-1zM1157 712h1v3h-1zM1157 718h1v3h-1zM1157 724h1v3h-1zM1157 730h1v3h-1zM1157 736h1v3h-1zM1157 742h1v3h-1zM1157 748h1v3h-1zM1157 754h1v3h-1zM1157 760h1v3h-1zM1157 766h1v3h-1zM1157 772h1v3h-1zM1157 778h1v3h-1zM1221 5h1v2h-1zM1221 10h1v3h-1zM1221 16h1v3h-1zM1221 22h1v3h-1zM1221 28h1v3h-1zM1221 34h1v3h-1zM1221 40h1v3h-1zM1221 46h1v3h-1zM1221 52h1v3h-1zM1221 58h1v3h-1zM1221 64h1v3h-1zM1221 70h1v3h-1zM1221 76h1v3h-1zM1221 82h1v3h-1zM1221 88h1v3h-1zM1221 94h1v3h-1zM1221 100h1v3h-1zM1221 106h1v3h-1zM1221 112h1v3h-1zM1221 118h1v3h-1zM1221 124h1v3h-1zM1221 130h1v3h-1zM1221 136h1v3h-1zM1221 142h1v3h-1zM1221 148h1v3h-1zM1221 154h1v3h-1zM1221 160h1v3h-1zM1221 166h1v3h-1zM1221 172h1v3h-1zM1221 178h1v3h-1zM1221 184h1v3h-1zM1221 190h1v3h-1zM1221 196h1v3h-1zM1221 202h1v3h-1zM1221 208h1v3h-1zM1221 214h1v3h-1zM1221 220h1v3h-1zM1221 226h1v3h-1zM1221 232h1v3h-1zM1221 238h1v3h-1zM1221 244h1v3h-1zM1221 250h1v3h-1zM1221 256h1v3h-1zM1221 262h1v3h-1zM1221 268h1v3h-1zM1221 274h1v3h-1zM1221 280h1v3h-1zM1221 286h1v3h-1zM1221 292h1v3h-1zM1221 298h1v3h-1zM1221 304h1v3h-1zM1221 310h1v3h-1zM1221 316h1v3h-1zM1221 322h1v3h-1zM1221 328h1v3h-1zM1221 334h1v3h-1zM1221 340h1v3h-1zM1221 346h1v3h-1zM1221 352h1v3h-1zM1221 358h1v3h-1zM1221 364h1v3h-1zM1221 370h1v3h-1zM1221 376h1v3h-1zM1221 382h1v3h-1zM1221 388h1v3h-1zM1221 394h1v3h-1zM1221 400h1v3h-1zM1221 406h1v3h-1zM1221 412h1v3h-1zM1221 418h1v3h-1zM1221 424h1v3h-1zM1221 430h1v3h-1zM1221 436h1v3h-1zM1221 442h1v3h-1zM1221 448h1v3h-1zM1221 454h1v3h-1zM1221 460h1v3h-1zM1221 466h1v3h-1zM1221 472h1v3h-1zM1221 478h1v3h-1zM1221 484h1v3h-1zM1221 490h1v3h-1zM1221 496h1v3h-1zM1221 502h1v3h-1zM1221 508h1v3h-1zM1221 514h1v3h-1zM1221 520h1v3h-1zM1221 526h1v3h-1zM1221 532h1v3h-1zM1221 538h1v3h-1zM1221 544h1v3h-1zM1221 550h1v3h-1zM1221 556h1v3h-1zM1221 562h1v3h-1zM1221 568h1v3h-1zM1221 574h1v3h-1zM1221 580h1v3h-1zM1221 586h1v3h-1zM1221 592h1v3h-1zM1221 598h1v3h-1zM1221 604h1v3h-1zM1221 610h1v3h-1zM1221 616h1v3h-1zM1221 622h1v3h-1zM1221 628h1v3h-1zM1221 636h1v1h-1zM1221 640h1v3h-1zM1221 646h1v3h-1zM1221 652h1v3h-1zM1221 658h1v3h-1zM1221 664h1v3h-1zM1221 670h1v3h-1zM1221 676h1v3h-1zM1221 682h1v3h-1zM1221 688h1v3h-1zM1221 694h1v3h-1zM1221 700h1v3h-1zM1221 706h1v3h-1zM1221 712h1v3h-1zM1221 718h1v3h-1zM1221 724h1v3h-1zM1221 730h1v3h-1zM1221 736h1v3h-1zM1221 742h1v3h-1zM1221 748h1v3h-1zM1221 754h1v3h-1zM1221 760h1v3h-1zM1221 766h1v3h-1zM1221 772h1v3h-1zM1221 778h1v3h-1zM1285 5h1v2h-1zM1285 10h1v3h-1zM1285 16h1v3h-1zM1285 22h1v3h-1zM1285 28h1v3h-1zM1285 34h1v3h-1zM1285 40h1v3h-1zM1285 46h1v3h-1zM1285 52h1v3h-1zM1285 58h1v3h-1zM1285 64h1v3h-1zM1285 70h1v3h-1zM1285 76h1v3h-1zM1285 82h1v3h-1zM1285 88h1v3h-1zM1285 94h1v3h-1zM1285 100h1v3h-1zM1285 106h1v3h-1zM1285 112h1v3h-1zM1285 118h1v3h-1zM1285 124h1v3h-1zM1285 130h1v3h-1zM1285 136h1v3h-1zM1285 142h1v3h-1zM1285 148h1v3h-1zM1285 154h1v3h-1zM1285 160h1v3h-1zM1285 166h1v3h-1zM1285 172h1v3h-1zM1285 178h1v3h-1zM1285 184h1v3h-1zM1285 190h1v3h-1zM1285 196h1v3h-1zM1285 202h1v3h-1zM1285 208h1v3h-1zM1285 214h1v3h-1zM1285 220h1v3h-1zM1285 226h1v3h-1zM1285 232h1v3h-1zM1285 238h1v3h-1zM1285 244h1v3h-1zM1285 250h1v3h-1zM1285 256h1v3h-1zM1285 262h1v3h-1zM1285 268h1v3h-1zM1285 274h1v3h-1zM1285 280h1v3h-1zM1285 286h1v3h-1zM1285 292h1v3h-1zM1285 298h1v3h-1zM1285 304h1v3h-1zM1285 310h1v3h-1zM1285 316h1v3h-1zM1285 322h1v3h-1zM1285 328h1v3h-1zM1285 334h1v3h-1zM1285 340h1v3h-1zM1285 346h1v3h-1zM1285 352h1v3h-1zM1285 358h1v3h-1zM1285 364h1v3h-1zM1285 370h1v3h-1zM1285 376h1v3h-1zM1285 382h1v3h-1zM1285 388h1v3h-1zM1285 394h1v3h-1zM1285 400h1v3h-1zM1285 406h1v3h-1zM1285 412h1v3h-1zM1285 418h1v3h-1zM1285 424h1v3h-1zM1285 430h1v3h-1zM1285 436h1v3h-1zM1285 442h1v3h-1zM1285 448h1v3h-1zM1285 454h1v3h-1zM1285 460h1v3h-1zM1285 466h1v3h-1zM1285 472h1v3h-1zM1285 478h1v3h-1zM1285 484h1v3h-1zM1285 490h1v3h-1zM1285 496h1v3h-1zM1285 502h1v3h-1zM1285 508h1v3h-1zM1285 514h1v3h-1zM1285 520h1v3h-1zM1285 526h1v3h-1zM1285 532h1v3h-1zM1285 538h1v3h-1zM1285 544h1v3h-1zM1285 550h1v3h-1zM1285 556h1v3h-1zM1285 562h1v3h-1zM1285 568h1v3h-1zM1285 574h1v3h-1zM1285 580h1v3h-1zM1285 586h1v3h-1zM1285 592h1v3h-1zM1285 598h1v3h-1zM1285 604h1v3h-1zM1285 610h1v3h-1zM1285 616h1v3h-1zM1285 622h1v3h-1zM1285 628h1v3h-1zM1285 636h1v1h-1zM1285 640h1v3h-1zM1285 646h1v3h-1zM1285 652h1v3h-1zM1285 658h1v3h-1zM1285 664h1v3h-1zM1285 670h1v3h-1zM1285 676h1v3h-1zM1285 682h1v3h-1zM1285 688h1v3h-1zM1285 694h1v3h-1zM1285 700h1v3h-1zM1285 706h1v3h-1zM1285 712h1v3h-1zM1285 718h1v3h-1zM1285 724h1v3h-1zM1285 730h1v3h-1zM1285 736h1v3h-1zM1285 742h1v3h-1zM1285 748h1v3h-1zM1285 754h1v3h-1zM1285 760h1v3h-1zM1285 766h1v3h-1zM1285 772h1v3h-1zM1285 778h1v3h-1zM1349 5h1v2h-1zM1349 10h1v3h-1zM1349 16h1v3h-1zM1349 22h1v3h-1zM1349 28h1v3h-1zM1349 34h1v3h-1zM1349 40h1v3h-1zM1349 46h1v3h-1zM1349 52h1v3h-1zM1349 58h1v3h-1zM1349 64h1v3h-1zM1349 70h1v3h-1zM1349 76h1v3h-1zM1349 82h1v3h-1zM1349 88h1v3h-1zM1349 94h1v3h-1zM1349 100h1v3h-1zM1349 106h1v3h-1zM1349 112h1v3h-1zM1349 118h1v3h-1zM1349 124h1v3h-1zM1349 130h1v3h-1zM1349 136h1v3h-1zM1349 142h1v3h-1zM1349 148h1v3h-1zM1349 154h1v3h-1zM1349 160h1v3h-1zM1349 166h1v3h-1zM1349 172h1v3h-1zM1349 178h1v3h-1zM1349 184h1v3h-1zM1349 190h1v3h-1zM1349 196h1v3h-1zM1349 202h1v3h-1zM1349 208h1v3h-1zM1349 214h1v3h-1zM1349 220h1v3h-1zM1349 226h1v3h-1zM1349 232h1v3h-1zM1349 238h1v3h-1zM1349 244h1v3h-1zM1349 250h1v3h-1zM1349 256h1v3h-1zM1349 262h1v3h-1zM1349 268h1v3h-1zM1349 274h1v3h-1zM1349 280h1v3h-1zM1349 286h1v3h-1zM1349 292h1v3h-1zM1349 298h1v3h-1zM1349 304h1v3h-1zM1349 310h1v3h-1zM1349 316h1v3h-1zM1349 322h1v3h-1zM1349 328h1v3h-1zM1349 334h1v3h-1zM1349 340h1v3h-1zM1349 346h1v3h-1zM1349 352h1v3h-1zM1349 358h1v3h-1zM1349 364h1v3h-1zM1349 370h1v3h-1zM1349 376h1v3h-1zM1349 382h1v3h-1zM1349 388h1v3h-1zM1349 394h1v3h-1zM1349 400h1v3h-1zM1349 406h1v3h-1zM1349 412h1v3h-1zM1349 418h1v3h-1zM1349 424h1v3h-1zM1349 430h1v3h-1zM1349 436h1v3h-1zM1349 442h1v3h-1zM1349 448h1v3h-1zM1349 454h1v3h-1zM1349 460h1v3h-1zM1349 466h1v3h-1zM1349 472h1v3h-1zM1349 478h1v3h-1zM1349 484h1v3h-1zM1349 490h1v3h-1zM1349 496h1v3h-1zM1349 502h1v3h-1zM1349 508h1v3h-1zM1349 514h1v3h-1zM1349 520h1v3h-1zM1349 526h1v3h-1zM1349 532h1v3h-1zM1349 538h1v3h-1zM1349 544h1v3h-1zM1349 550h1v3h-1zM1349 556h1v3h-1zM1349 562h1v3h-1zM1349 568h1v3h-1zM1349 574h1v3h-1zM1349 580h1v3h-1zM1349 586h1v3h-1zM1349 592h1v3h-1zM1349 598h1v3h-1zM1349 604h1v3h-1zM1349 610h1v3h-1zM1349 616h1v3h-1zM1349 622h1v3h-1zM1349 628h1v3h-1zM1349 636h1v1h-1zM1349 640h1v3h-1zM1349 646h1v3h-1zM1349 652h1v3h-1zM1349 658h1v3h-1zM1349 664h1v3h-1zM1349 670h1v3h-1zM1349 676h1v3h-1zM1349 682h1v3h-1zM1349 688h1v3h-1zM1349 694h1v3h-1zM1349 700h1v3h-1zM1349 706h1v3h-1zM1349 712h1v3h-1zM1349 718h1v3h-1zM1349 724h1v3h-1zM1349 730h1v3h-1zM1349 736h1v3h-1zM1349 742h1v3h-1zM1349 748h1v3h-1zM1349 754h1v3h-1zM1349 760h1v3h-1zM1349 766h1v3h-1zM1349 772h1v3h-1zM1349 778h1v3h-1zM1413 5h1v2h-1zM1413 10h1v3h-1zM1413 16h1v3h-1zM1413 22h1v3h-1zM1413 28h1v3h-1zM1413 34h1v3h-1zM1413 40h1v3h-1zM1413 46h1v3h-1zM1413 52h1v3h-1zM1413 58h1v3h-1zM1413 64h1v3h-1zM1413 70h1v3h-1zM1413 76h1v3h-1zM1413 82h1v3h-1zM1413 88h1v3h-1zM1413 94h1v3h-1zM1413 100h1v3h-1zM1413 106h1v3h-1zM1413 112h1v3h-1zM1413 118h1v3h-1zM1413 124h1v3h-1zM1413 130h1v3h-1zM1413 136h1v3h-1zM1413 142h1v3h-1zM1413 148h1v3h-1zM1413 154h1v3h-1zM1413 160h1v3h-1zM1413 166h1v3h-1zM1413 172h1v3h-1zM1413 178h1v3h-1zM1413 184h1v3h-1zM1413 190h1v3h-1zM1413 196h1v3h-1zM1413 202h1v3h-1zM1413 208h1v3h-1zM1413 214h1v3h-1zM1413 220h1v3h-1zM1413 226h1v3h-1zM1413 232h1v3h-1zM1413 238h1v3h-1zM1413 244h1v3h-1zM1413 250h1v3h-1zM1413 256h1v3h-1zM1413 262h1v3h-1zM1413 268h1v3h-1zM1413 274h1v3h-1zM1413 280h1v3h-1zM1413 286h1v3h-1zM1413 292h1v3h-1zM1413 298h1v3h-1zM1413 304h1v3h-1zM1413 310h1v3h-1zM1413 316h1v3h-1zM1413 322h1v3h-1zM1413 328h1v3h-1zM1413 334h1v3h-1zM1413 340h1v3h-1zM1413 346h1v3h-1zM1413 352h1v3h-1zM1413 358h1v3h-1zM1413 364h1v3h-1zM1413 370h1v3h-1zM1413 376h1v3h-1zM1413 382h1v3h-1zM1413 388h1v3h-1zM1413 394h1v3h-1zM1413 400h1v3h-1zM1413 406h1v3h-1zM1413 412h1v3h-1zM1413 418h1v3h-1zM1413 424h1v3h-1zM1413 430h1v3h-1zM1413 436h1v3h-1zM1413 442h1v3h-1zM1413 448h1v3h-1zM1413 454h1v3h-1zM1413 460h1v3h-1zM1413 466h1v3h-1zM1413 472h1v3h-1zM1413 478h1v3h-1zM1413 484h1v3h-1zM1413 490h1v3h-1zM1413 496h1v3h-1zM1413 502h1v3h-1zM1413 508h1v3h-1zM1413 514h1v3h-1zM1413 520h1v3h-1zM1413 526h1v3h-1zM1413 532h1v3h-1zM1413 538h1v3h-1zM1413 544h1v3h-1zM1413 550h1v3h-1zM1413 556h1v3h-1zM1413 562h1v3h-1zM1413 568h1v3h-1zM1413 574h1v3h-1zM1413 580h1v3h-1zM1413 586h1v3h-1zM1413 592h1v3h-1zM1413 598h1v3h-1zM1413 604h1v3h-1zM1413 610h1v3h-1zM1413 616h1v3h-1zM1413 622h1v3h-1zM1413 628h1v3h-1zM1413 636h1v1h-1zM1413 640h1v3h-1zM1413 646h1v3h-1zM1413 652h1v3h-1zM1413 658h1v3h-1zM1413 664h1v3h-1zM1413 670h1v3h-1zM1413 676h1v3h-1zM1413 682h1v3h-1zM1413 688h1v3h-1zM1413 694h1v3h-1zM1413 700h1v3h-1zM1413 706h1v3h-1zM1413 712h1v3h-1zM1413 718h1v3h-1zM1413 724h1v3h-1zM1413 730h1v3h-1zM1413 736h1v3h-1zM1413 742h1v3h-1zM1413 748h1v3h-1zM1413 754h1v3h-1zM1413 760h1v3h-1zM1413 766h1v3h-1zM1413 772h1v3h-1zM1413 778h1v3h-1zM6 690h3v1h-3zM12 690h3v1h-3zM18 690h3v1h-3zM24 690h3v1h-3zM30 690h3v1h-3zM36 690h3v1h-3zM42 690h3v1h-3zM48 690h3v1h-3zM54 690h3v1h-3zM60 690h3v1h-3zM66 690h3v1h-3zM72 690h3v1h-3zM78 690h3v1h-3zM84 690h3v1h-3zM90 690h3v1h-3zM96 690h3v1h-3zM102 690h3v1h-3zM108 690h3v1h-3zM114 690h3v1h-3zM120 690h3v1h-3zM126 690h3v1h-3zM132 690h3v1h-3zM138 690h3v1h-3zM144 690h3v1h-3zM150 690h3v1h-3zM156 690h3v1h-3zM162 690h3v1h-3zM168 690h3v1h-3zM174 690h3v1h-3zM180 690h3v1h-3zM186 690h3v1h-3zM192 690h3v1h-3zM198 690h3v1h-3zM204 690h3v1h-3zM210 690h3v1h-3zM216 690h3v1h-3zM222 690h3v1h-3zM228 690h3v1h-3zM234 690h3v1h-3zM240 690h3v1h-3zM246 690h3v1h-3zM252 690h3v1h-3zM258 690h3v1h-3zM264 690h3v1h-3zM270 690h3v1h-3zM276 690h3v1h-3zM282 690h3v1h-3zM288 690h3v1h-3zM294 690h3v1h-3zM300 690h3v1h-3zM306 690h3v1h-3zM312 690h3v1h-3zM318 690h3v1h-3zM324 690h3v1h-3zM330 690h3v1h-3zM336 690h3v1h-3zM342 690h3v1h-3zM348 690h3v1h-3zM354 690h3v1h-3zM360 690h3v1h-3zM366 690h3v1h-3zM372 690h3v1h-3zM378 690h3v1h-3zM384 690h3v1h-3zM390 690h3v1h-3zM396 690h3v1h-3zM402 690h3v1h-3zM408 690h3v1h-3zM414 690h3v1h-3zM420 690h3v1h-3zM426 690h3v1h-3zM432 690h3v1h-3zM438 690h3v1h-3zM444 690h3v1h-3zM450 690h3v1h-3zM456 690h3v1h-3zM462 690h3v1h-3zM468 690h3v1h-3zM474 690h3v1h-3zM480 690h3v1h-3zM486 690h3v1h-3zM492 690h3v1h-3zM498 690h3v1h-3zM504 690h3v1h-3zM510 690h3v1h-3zM516 690h3v1h-3zM522 690h3v1h-3zM528 690h3v1h-3zM534 690h3v1h-3zM540 690h3v1h-3zM546 690h3v1h-3zM552 690h3v1h-3zM558 690h3v1h-3zM564 690h3v1h-3zM570 690h3v1h-3zM576 690h3v1h-3zM582 690h3v1h-3zM588 690h3v1h-3zM594 690h3v1h-3zM600 690h3v1h-3zM606 690h3v1h-3zM612 690h3v1h-3zM618 690h3v1h-3zM624 690h3v1h-3zM630 690h3v1h-3zM636 690h3v1h-3zM642 690h3v1h-3zM648 690h3v1h-3zM654 690h3v1h-3zM660 690h3v1h-3zM666 690h3v1h-3zM672 690h3v1h-3zM678 690h3v1h-3zM684 690h3v1h-3zM690 690h3v1h-3zM696 690h3v1h-3zM702 690h3v1h-3zM708 690h3v1h-3zM714 690h3v1h-3zM720 690h3v1h-3zM726 690h3v1h-3zM732 690h3v1h-3zM738 690h3v1h-3zM744 690h3v1h-3zM750 690h3v1h-3zM756 690h3v1h-3zM762 690h3v1h-3zM768 690h3v1h-3zM774 690h3v1h-3zM780 690h3v1h-3zM786 690h3v1h-3zM792 690h3v1h-3zM798 690h3v1h-3zM804 690h3v1h-3zM810 690h3v1h-3zM816 690h3v1h-3zM822 690h3v1h-3zM828 690h3v1h-3zM834 690h3v1h-3zM840 690h3v1h-3zM846 690h3v1h-3zM852 690h3v1h-3zM858 690h3v1h-3zM864 690h3v1h-3zM870 690h3v1h-3zM876 690h3v1h-3zM882 690h3v1h-3zM888 690h3v1h-3zM894 690h3v1h-3zM900 690h3v1h-3zM906 690h3v1h-3zM912 690h3v1h-3zM918 690h3v1h-3zM924 690h3v1h-3zM930 690h3v1h-3zM936 690h3v1h-3zM942 690h3v1h-3zM948 690h3v1h-3zM954 690h3v1h-3zM960 690h3v1h-3zM966 690h3v1h-3zM972 690h3v1h-3zM978 690h3v1h-3zM984 690h3v1h-3zM990 690h3v1h-3zM996 690h3v1h-3zM1002 690h3v1h-3zM1008 690h3v1h-3zM1014 690h3v1h-3zM1020 690h3v1h-3zM1026 690h3v1h-3zM1032 690h3v1h-3zM1038 690h3v1h-3zM1044 690h3v1h-3zM1050 690h3v1h-3zM1056 690h3v1h-3zM1062 690h3v1h-3zM1068 690h3v1h-3zM1074 690h3v1h-3zM1080 690h3v1h-3zM1086 690h3v1h-3zM1092 690h3v1h-3zM1098 690h3v1h-3zM1104 690h3v1h-3zM1110 690h3v1h-3zM1116 690h3v1h-3zM1122 690h3v1h-3zM1128 690h3v1h-3zM1134 690h3v1h-3zM1140 690h3v1h-3zM1146 690h3v1h-3zM1152 690h3v1h-3zM1158 690h3v1h-3zM1164 690h3v1h-3zM1170 690h3v1h-3zM1176 690h3v1h-3zM1182 690h3v1h-3zM1188 690h3v1h-3zM1194 690h3v1h-3zM1200 690h3v1h-3zM1206 690h3v1h-3zM1212 690h3v1h-3zM1218 690h3v1h-3zM1224 690h3v1h-3zM1230 690h3v1h-3zM1236 690h3v1h-3zM1242 690h3v1h-3zM1248 690h3v1h-3zM1254 690h3v1h-3zM1260 690h3v1h-3zM1266 690h3v1h-3zM1272 690h3v1h-3zM1278 690h3v1h-3zM1284 690h3v1h-3zM1290 690h3v1h-3zM1296 690h3v1h-3zM1302 690h3v1h-3zM1308 690h3v1h-3zM1314 690h3v1h-3zM1320 690h3v1h-3zM1326 690h3v1h-3zM1332 690h3v1h-3zM1338 690h3v1h-3zM1344 690h3v1h-3zM1350 690h3v1h-3zM1356 690h3v1h-3zM1362 690h3v1h-3zM1368 690h3v1h-3zM1374 690h3v1h-3zM1380 690h3v1h-3zM1386 690h3v1h-3zM1392 690h3v1h-3zM1398 690h3v1h-3zM1404 690h3v1h-3zM1410 690h3v1h-3zM1416 690h3v1h-3zM1422 690h3v1h-3zM1428 690h3v1h-3zM1434 690h3v1h-3zM1440 690h3v1h-3zM1446 690h3v1h-3z" fill="#778899"/>
</g>
<polygon points="1154,5 1169.5,5 1161.75,13.5" fill="#778899"/>
<g shape-rendering="crispEdges">
<rect x="5" y="552" width="1447" height="1" fill="#778899"/>
<defs><clipPath id="cm"><rect x="5" y="5" width="1447" height="628"/></clipPath><clipPath id="cd"><rect x="5" y="636" width="1447" height="148"/></clipPath></defs>
<g clip-path="url(#cm)">
<path d="M5 89h1v227h-1zM3 138h5v89h-5zM13 36h1v107h-1zM11 80h5v59h-5zM21 73h1v68h-1zM19 80h5v60h-5zM29 73h1v86h-1zM27 90h5v50h-5zM37 79h1v37h-1zM35 90h5v14h-5zM45 97h1v22h-1zM43 100h5v4h-5zM53 98h1v31h-1zM51 99h5v11h-5zM61 74h1v17h-1zM59 75h5v3h-5zM69 56h1v32h-1zM67 69h5v7h-5zM77 70h1v41h-1zM75 70h5v25h-5zM85 88h1v37h-1zM83 95h5v19h-5zM93 104h1v46h-1zM91 114h5v21h-5zM101 132h1v28h-1zM99 135h5v7h-5zM109 139h1v38h-1zM107 141h5v29h-5zM117 150h1v36h-1zM115 163h5v7h-5zM125 151h1v35h-1zM123 164h5v5h-5zM133 168h1v31h-1zM131 168h5v9h-5zM141 158h1v44h-1zM139 176h5v26h-5zM149 183h1v31h-1zM147 188h5v14h-5zM157 174h1v35h-1zM155 176h5v12h-5zM165 149h1v61h-1zM163 152h5v25h-5zM173 104h1v107h-1zM171 151h5v59h-5zM181 167h1v72h-1zM179 203h5v6h-5zM189 187h1v46h-1zM187 203h5v22h-5zM197 192h1v38h-1zM195 199h5v26h-5zM205 166h1v38h-1zM203 178h5v22h-5zM213 164h1v20h-1zM211 166h5v13h-5zM221 157h1v20h-1zM219 165h5v4h-5zM229 168h1v15h-1zM227 168h5v4h-5zM237 161h1v23h-1zM235 174h5v4h-5zM245 151h1v27h-1zM243 168h5v10h-5zM253 161h1v30h-1zM251 168h5v14h-5zM261 182h1v55h-1zM259 182h5v54h-5zM269 189h1v54h-1zM267 192h5v44h-5zM277 188h1v32h-1zM275 193h5v23h-5zM285 196h1v29h-1zM283 199h5v17h-5zM293 193h1v31h-1zM291 199h5v5h-5zM301 194h1v31h-1zM299 205h5v11h-5zM309 201h1v54h-1zM307 216h5v36h-5zM317 190h1v61h-1zM315 190h5v61h-5zM325 183h1v39h-1zM323 190h5v4h-5zM333 186h1v67h-1zM331 192h5v56h-5zM341 215h1v67h-1zM339 248h5v25h-5zM349 258h1v82h-1zM347 273h5v46h-5zM357 271h1v83h-1zM355 305h5v14h-5zM365 231h1v95h-1zM363 295h5v11h-5zM373 283h1v38h-1zM371 295h5v17h-5zM381 278h1v51h-1zM379 312h5v7h-5zM389 305h1v38h-1zM387 316h5v4h-5zM397 307h1v26h-1zM395 316h5v4h-5zM405 302h1v27h-1zM403 319h5v7h-5zM413 319h1v11h-1zM411 321h5v5h-5zM421 316h1v14h-1zM419 322h5v2h-5zM429 314h1v12h-1zM427 315h5v9h-5zM437 303h1v24h-1zM435 315h5v9h-5zM445 269h1v65h-1zM443 289h5v35h-5zM453 249h1v41h-1zM451 262h5v28h-5zM461 246h1v32h-1zM459 256h5v6h-5zM469 243h1v22h-1zM467 253h5v3h-5zM477 229h1v27h-1zM475 242h5v12h-5zM485 227h1v49h-1zM483 242h5v12h-5zM493 240h1v26h-1zM491 249h5v7h-5zM501 248h1v44h-1zM499 249h5v35h-5zM509 279h1v33h-1zM507 283h5v25h-5zM517 303h1v26h-1zM515 308h5v14h-5zM525 307h1v40h-1zM523 321h5v9h-5zM533 305h1v57h-1zM531 324h5v6h-5zM541 310h1v60h-1zM539 325h5v27h-5zM549 290h1v152h-1zM547 352h5v72h-5zM557 407h1v41h-1zM555 424h5v10h-5zM565 413h1v34h-1zM563 433h5v6h-5zM573 416h1v27h-1zM571 437h5v2h-5zM581 436h1v14h-1zM579 437h5v3h-5zM589 430h1v19h-1zM587 440h5v9h-5zM597 446h1v22h-1zM595 448h5v12h-5zM605 435h1v27h-1zM603 438h5v21h-5zM613 429h1v10h-1zM611 433h5v5h-5zM621 423h1v24h-1zM619 429h5v3h-5zM629 403h1v48h-1zM627 416h5v14h-5zM637 400h1v28h-1zM635 416h5v12h-5zM645 401h1v30h-1zM643 407h5v21h-5zM653 405h1v33h-1zM651 407h5v25h-5zM661 400h1v46h-1zM659 409h5v23h-5zM669 401h1v48h-1zM667 409h5v7h-5zM677 381h1v44h-1zM675 397h5v19h-5zM685 373h1v35h-1zM683 397h5v2h-5zM693 368h1v33h-1zM691 378h5v19h-5zM701 358h1v34h-1zM699 366h5v11h-5zM709 354h1v24h-1zM707 365h5v2h-5zM717 256h1v118h-1zM715 307h5v57h-5zM725 294h1v111h-1zM723 307h5v47h-5zM733 351h1v124h-1zM731 353h5v103h-5zM741 386h1v97h-1zM739 386h5v70h-5zM749 367h1v30h-1zM747 382h5v3h-5zM757 376h1v101h-1zM755 382h5v90h-5zM765 454h1v30h-1zM763 456h5v16h-5zM773 453h1v25h-1zM771 456h5v22h-5zM781 472h1v21h-1zM779 477h5v13h-5zM789 476h1v19h-1zM787 485h5v2h-5zM797 485h1v26h-1zM795 485h5v5h-5zM805 453h1v44h-1zM803 459h5v31h-5zM813 446h1v19h-1zM811 448h5v12h-5zM821 442h1v25h-1zM819 448h5v11h-5zM829 447h1v31h-1zM827 458h5v2h-5zM837 459h1v29h-1zM835 460h5v16h-5zM845 443h1v43h-1zM843 446h5v30h-5zM853 421h1v30h-1zM851 438h5v8h-5zM861 415h1v31h-1zM859 417h5v21h-5zM869 397h1v44h-1zM867 403h5v14h-5zM877 392h1v37h-1zM875 403h5v13h-5zM885 410h1v18h-1zM883 416h5v2h-5zM893 401h1v23h-1zM891 402h5v15h-5zM901 377h1v102h-1zM899 402h5v40h-5zM909 419h1v64h-1zM907 440h5v2h-5zM917 377h1v73h-1zM915 408h5v32h-5zM925 395h1v88h-1zM923 408h5v61h-5zM933 452h1v23h-1zM931 464h5v4h-5zM941 448h1v32h-1zM939 464h5v16h-5zM949 470h1v18h-1zM947 476h5v4h-5zM957 463h1v27h-1zM955 472h5v2h-5zM965 471h1v41h-1zM963 473h5v35h-5zM973 481h1v39h-1zM971 501h5v7h-5zM981 485h1v29h-1zM979 494h5v8h-5zM989 473h1v27h-1zM987 485h5v9h-5zM997 483h1v15h-1zM995 485h5v5h-5zM1005 460h1v37h-1zM1003 482h5v8h-5zM1013 468h1v34h-1zM1011 482h5v12h-5zM1021 443h1v71h-1zM1019 462h5v32h-5zM1029 439h1v32h-1zM1027 462h5v4h-5zM1037 463h1v30h-1zM1035 464h5v5h-5zM1045 456h1v22h-1zM1043 463h5v5h-5zM1053 455h1v22h-1zM1051 463h5v6h-5zM1061 468h1v106h-1zM1059 469h5v47h-5zM1069 508h1v110h-1zM1067 516h5v82h-5zM1077 500h1v110h-1zM1075 541h5v57h-5zM1085 504h1v42h-1zM1083 512h5v30h-5zM1093 480h1v33h-1zM1091 496h5v17h-5zM1101 480h1v38h-1zM1099 496h5v22h-5zM1109 513h1v38h-1zM1107 517h5v29h-5zM1117 544h1v14h-1zM1115 546h5v7h-5zM1125 549h1v12h-1zM1123 553h5v3h-5zM1133 550h1v8h-1zM1131 553h5v3h-5zM1141 552h1v35h-1zM1139 552h5v2h-5z" fill="#000"/>
<path d="M20 81h3v58h-3zM36 91h3v12h-3zM52 100h3v9h-3zM76 71h3v23h-3zM84 96h3v17h-3zM92 115h3v19h-3zM100 136h3v5h-3zM108 142h3v27h-3zM124 165h3v3h-3zM132 169h3v7h-3zM140 177h3v24h-3zM172 152h3v57h-3zM188 204h3v20h-3zM220 166h3v2h-3zM228 169h3v2h-3zM236 175h3v2h-3zM252 169h3v12h-3zM260 183h3v52h-3zM276 194h3v21h-3zM292 200h3v3h-3zM300 206h3v9h-3zM308 217h3v34h-3zM324 191h3v2h-3zM332 193h3v54h-3zM340 249h3v23h-3zM348 274h3v44h-3zM372 296h3v15h-3zM380 313h3v5h-3zM396 317h3v2h-3zM404 320h3v5h-3zM436 316h3v7h-3zM484 243h3v10h-3zM500 250h3v33h-3zM508 284h3v23h-3zM516 309h3v12h-3zM524 322h3v7h-3zM540 326h3v25h-3zM548 353h3v70h-3zM556 425h3v8h-3zM564 434h3v4h-3zM580 438h3v1h-3zM588 441h3v7h-3zM596 449h3v10h-3zM636 417h3v10h-3zM652 408h3v23h-3zM668 410h3v5h-3zM724 308h3v45h-3zM732 354h3v101h-3zM756 383h3v88h-3zM772 457h3v20h-3zM780 478h3v11h-3zM796 486h3v3h-3zM820 449h3v9h-3zM836 461h3v14h-3zM876 404h3v11h-3zM900 403h3v38h-3zM924 409h3v59h-3zM940 465h3v14h-3zM964 474h3v33h-3zM996 486h3v3h-3zM1012 483h3v10h-3zM1028 463h3v2h-3zM1036 465h3v3h-3zM1052 464h3v4h-3zM1060 470h3v45h-3zM1068 517h3v80h-3zM1100 497h3v20h-3zM1108 518h3v27h-3zM1116 547h3v5h-3zM1124 554h3v1h-3z" fill="#00ff00"/>
<path d="M4 139h3v87h-3zM12 81h3v57h-3zM28 91h3v48h-3zM44 101h3v2h-3zM60 76h3v1h-3zM68 70h3v5h-3zM116 164h3v5h-3zM148 189h3v12h-3zM156 177h3v10h-3zM164 153h3v23h-3zM180 204h3v4h-3zM196 200h3v24h-3zM204 179h3v20h-3zM212 167h3v11h-3zM244 169h3v8h-3zM268 193h3v42h-3zM284 200h3v15h-3zM316 191h3v59h-3zM356 306h3v12h-3zM364 296h3v9h-3zM388 317h3v2h-3zM412 322h3v3h-3zM428 316h3v7h-3zM444 290h3v33h-3zM452 263h3v26h-3zM460 257h3v4h-3zM468 254h3v1h-3zM476 243h3v10h-3zM492 250h3v5h-3zM532 325h3v4h-3zM604 439h3v19h-3zM612 434h3v3h-3zM620 430h3v1h-3zM628 417h3v12h-3zM644 408h3v19h-3zM660 410h3v21h-3zM676 398h3v17h-3zM692 379h3v17h-3zM700 367h3v9h-3zM716 308h3v55h-3zM740 387h3v68h-3zM748 383h3v1h-3zM764 457h3v14h-3zM804 460h3v29h-3zM812 449h3v10h-3zM844 447h3v28h-3zM852 439h3v6h-3zM860 418h3v19h-3zM868 404h3v12h-3zM892 403h3v13h-3zM916 409h3v30h-3zM932 465h3v2h-3zM948 477h3v2h-3zM972 502h3v5h-3zM980 495h3v6h-3zM988 486h3v7h-3zM1004 483h3v6h-3zM1020 463h3v30h-3zM1044 464h3v3h-3zM1076 542h3v55h-3zM1084 513h3v28h-3zM1092 497h3v15h-3zM1132 554h3v1h-3z" fill="#ff0000"/>
</g>
<rect x="5" y="385" width="1447" height="4" fill="#000"/>
<rect x="5" y="478" width="1447" height="4" fill="#000"/>
<path d="M5 690h3v14h-3zM11 686h5v4h-5zM19 680h5v10h-5zM27 669h5v21h-5zM35 663h5v27h-5zM43 657h5v33h-5zM51 655h5v35h-5zM59 649h5v41h-5zM67 643h5v47h-5zM75 643h5v47h-5zM83 649h5v41h-5zM91 655h5v35h-5zM99 658h5v32h-5zM107 667h5v23h-5zM115 674h5v16h-5zM123 680h5v10h-5zM131 686h5v4h-5zM139 690h5v5h-5zM147 690h5v9h-5zM155 690h5v11h-5zM163 690h5v9h-5zM171 690h5v15h-5zM179 690h5v19h-5zM187 690h5v25h-5zM195 690h5v26h-5zM203 690h5v23h-5zM211 690h5v19h-5zM219 690h5v18h-5zM227 690h5v14h-5zM235 690h5v13h-5zM243 690h5v11h-5zM251 690h5v11h-5zM259 690h5v17h-5zM267 690h5v18h-5zM275 690h5v21h-5zM283 690h5v20h-5zM291 690h5v21h-5zM299 690h5v22h-5zM307 690h5v28h-5zM315 690h5v24h-5zM323 690h5v22h-5zM331 690h5v26h-5zM339 690h5v33h-5zM347 690h5v44h-5zM355 690h5v51h-5zM363 690h5v54h-5zM371 690h5v59h-5zM379 690h5v62h-5zM387 690h5v64h-5zM395 690h5v65h-5zM403 690h5v66h-5zM411 690h5v66h-5zM419 690h5v65h-5zM427 690h5v61h-5zM435 690h5v60h-5zM443 690h5v54h-5zM451 690h5v44h-5zM459 690h5v34h-5zM467 690h5v28h-5zM475 690h5v20h-5zM483 690h5v15h-5zM491 690h5v10h-5zM499 690h5v12h-5zM507 690h5v16h-5zM515 690h5v21h-5zM523 690h5v25h-5zM531 690h5v28h-5zM539 690h5v34h-5zM547 690h5v48h-5zM555 690h5v60h-5zM563 690h5v69h-5zM571 690h5v76h-5zM579 690h5v80h-5zM587 690h5v84h-5zM595 690h5v88h-5zM603 690h5v87h-5zM611 690h5v84h-5zM619 690h5v79h-5zM627 690h5v75h-5zM635 690h5v72h-5zM643 690h5v65h-5zM651 690h5v63h-5zM659 690h5v57h-5zM667 690h5v53h-5zM675 690h5v46h-5zM683 690h5v41h-5zM691 690h5v33h-5zM699 690h5v25h-5zM707 690h5v19h-5zM715 690h5v5h-5zM723 690h5v1h-5zM731 690h5v12h-5zM739 690h5v11h-5zM747 690h5v9h-5zM755 690h5v21h-5zM763 690h5v27h-5zM771 690h5v35h-5zM779 690h5v42h-5zM787 690h5v47h-5zM795 690h5v50h-5zM803 690h5v48h-5zM811 690h5v45h-5zM819 690h5v42h-5zM827 690h5v41h-5zM835 690h5v42h-5zM843 690h5v37h-5zM851 690h5v32h-5zM859 690h5v25h-5zM867 690h5v17h-5zM875 690h5v13h-5zM883 690h5v9h-5zM891 690h5v4h-5zM899 690h5v6h-5zM907 690h5v7h-5zM915 690h5v3h-5zM923 690h5v8h-5zM931 690h5v12h-5zM939 690h5v17h-5zM947 690h5v20h-5zM955 690h5v22h-5zM963 690h5v28h-5zM971 690h5v31h-5zM979 690h5v33h-5zM987 690h5v32h-5zM995 690h5v32h-5zM1003 690h5v30h-5zM1011 690h5v30h-5zM1019 690h5v26h-5zM1027 690h5v22h-5zM1035 690h5v20h-5zM1043 690h5v16h-5zM1051 690h5v15h-5zM1059 690h5v21h-5zM1067 690h5v36h-5zM1075 690h5v38h-5zM1083 690h5v38h-5zM1091 690h5v34h-5zM1099 690h5v33h-5zM1107 690h5v36h-5zM1115 690h5v40h-5zM1123 690h5v42h-5zM1131 690h5v42h-5zM1139 690h5v42h-5z" fill="#00ff00"/>
</g>
<g clip-path="url(#cd)"><path d="M4.0 710.3C6.67 709.45 15.67 707.00 20.0 705.2C24.33 703.40 26.67 701.38 30.0 699.5C33.33 697.62 36.67 696.05 40.0 693.9C43.33 691.75 46.67 689.45 50.0 686.6C53.33 683.75 56.67 680.07 60.0 676.8C63.33 673.53 66.67 669.83 70.0 667.0C73.33 664.17 76.67 661.90 80.0 659.8C83.33 657.70 86.67 655.65 90.0 654.4C93.33 653.15 96.67 652.62 100.0 652.3C103.33 651.98 106.67 651.95 110.0 652.5C113.33 653.05 116.67 654.47 120.0 655.6C123.33 656.73 126.67 657.57 130.0 659.3C133.33 661.03 136.67 663.60 140.0 666.0C143.33 668.40 146.67 671.20 150.0 673.7C153.33 676.20 156.67 678.85 160.0 681.0C163.33 683.15 166.67 684.63 170.0 686.6C173.33 688.57 176.67 690.73 180.0 692.8C183.33 694.87 186.67 697.18 190.0 699.0C193.33 700.82 196.67 702.57 200.0 703.7C203.33 704.83 207.08 705.27 210.0 705.8C212.92 706.33 213.03 706.48 217.5 706.9C221.97 707.32 231.75 708.30 236.8 708.3C241.85 708.30 243.22 707.28 247.8 706.9C252.38 706.52 259.27 706.47 264.3 706.0C269.33 705.53 272.95 704.18 278.0 704.1C283.05 704.02 289.08 704.77 294.6 705.5C300.12 706.23 305.60 707.72 311.1 708.5C316.60 709.28 322.10 709.32 327.6 710.2C333.10 711.08 339.52 712.47 344.1 713.8C348.68 715.13 350.97 716.33 355.1 718.2C359.23 720.07 364.30 722.95 368.9 725.0C373.50 727.05 379.18 728.83 382.7 730.5C386.22 732.17 386.43 732.83 390.0 735.0C393.57 737.17 399.38 741.02 404.1 743.5C408.82 745.98 413.58 748.48 418.3 749.9C423.02 751.32 427.68 751.77 432.4 752.0C437.12 752.23 441.88 752.23 446.6 751.3C451.32 750.37 455.98 748.40 460.7 746.4C465.42 744.40 470.18 742.02 474.9 739.3C479.62 736.58 484.30 733.40 489.0 730.1C493.70 726.80 498.38 722.68 503.1 719.5C507.82 716.32 512.58 712.88 517.3 711.0C522.02 709.12 526.68 708.20 531.4 708.2C536.12 708.20 540.88 709.12 545.6 711.0C550.32 712.88 555.00 716.20 559.7 719.5C564.40 722.80 569.08 726.80 573.8 730.8C578.52 734.80 582.95 738.90 588.0 743.5C593.05 748.10 599.05 754.38 604.1 758.4C609.15 762.42 613.10 765.65 618.3 767.6C623.50 769.55 629.42 770.15 635.3 770.1C641.18 770.05 648.18 768.78 653.6 767.3C659.02 765.82 663.08 763.75 667.8 761.2C672.52 758.65 677.18 754.95 681.9 752.0C686.62 749.05 691.38 746.45 696.1 743.5C700.82 740.55 705.48 738.07 710.2 734.3C714.92 730.53 719.68 724.78 724.4 720.9C729.12 717.02 733.80 713.72 738.5 711.0C743.20 708.28 748.12 705.90 752.6 704.6C757.08 703.30 761.38 703.07 765.4 703.2C769.42 703.33 772.93 703.87 776.7 705.4C780.47 706.93 783.43 709.93 788.0 712.4C792.57 714.87 799.05 717.60 804.1 720.2C809.15 722.80 812.87 725.88 818.3 728.0C823.73 730.12 831.52 732.08 836.7 732.9C841.88 733.72 845.40 733.48 849.4 732.9C853.40 732.32 856.45 731.05 860.7 729.4C864.95 727.75 870.18 725.12 874.9 723.0C879.62 720.88 885.47 718.52 889.0 716.7C892.53 714.88 892.57 713.87 896.1 712.1C899.63 710.33 905.48 708.17 910.2 706.1C914.92 704.03 919.68 701.00 924.4 699.7C929.12 698.40 933.80 698.30 938.5 698.3C943.20 698.30 947.88 698.77 952.6 699.7C957.32 700.63 962.08 702.48 966.8 703.9C971.52 705.32 976.90 706.70 980.9 708.2C984.90 709.70 986.93 711.68 990.8 712.9C994.67 714.12 999.52 714.45 1004.1 715.5C1008.68 716.55 1013.82 718.58 1018.3 719.2C1022.78 719.82 1026.28 719.73 1031.0 719.2C1035.72 718.67 1041.65 717.02 1046.6 716.0C1051.55 714.98 1056.47 713.58 1060.7 713.1C1064.93 712.62 1067.28 712.62 1072.0 713.1C1076.72 713.58 1083.82 715.22 1089.0 716.0C1094.18 716.78 1098.38 716.87 1103.1 717.8C1107.82 718.73 1112.58 720.02 1117.3 721.6C1122.02 723.18 1127.28 726.12 1131.4 727.3C1135.52 728.48 1140.23 728.47 1142.0 728.7" fill="none" stroke="#ff0000" stroke-width="2.7" stroke-linejoin="round" stroke-linecap="round"/></g>
<g shape-rendering="crispEdges" fill="#000">
<rect x="4" y="4" width="1449" height="1"/>
<rect x="4" y="633" width="1449" height="1"/>
<rect x="4" y="4" width="1" height="630"/>
<rect x="1452" y="4" width="1" height="630"/>
<rect x="4" y="635" width="1449" height="1"/>
<rect x="4" y="784" width="1449" height="1"/>
<rect x="4" y="635" width="1" height="150"/>
<rect x="1452" y="635" width="1" height="150"/>
<path d="M1453 13h2v1h-2zM1453 78h2v1h-2zM1453 143h2v1h-2zM1453 208h2v1h-2zM1453 273h2v1h-2zM1453 338h2v1h-2zM1453 403h2v1h-2zM1453 468h2v1h-2zM1453 533h2v1h-2zM1453 598h2v1h-2zM1453 637h2v1h-2zM1453 690h2v1h-2zM1453 784h2v1h-2zM5 785h1v3h-1zM133 785h1v3h-1zM261 785h1v3h-1zM389 785h1v3h-1zM517 785h1v3h-1zM645 785h1v3h-1zM773 785h1v3h-1zM901 785h1v3h-1zM1029 785h1v3h-1z"/>
</g>
<polygon points="7,12 19,12 13,18" fill="#000"/>
<text x="26" y="21" font-size="14.5" fill="#000" stroke="#000" stroke-width="0.1" textLength="76.5" lengthAdjust="spacingAndGlyphs">XAUUSD-,H1</text>
<text x="113" y="21" font-size="14.5" fill="#000" stroke="#000" stroke-width="0.1" textLength="50" lengthAdjust="spacingAndGlyphs">1907.41</text>
<text x="168.8" y="21" font-size="14.5" fill="#000" stroke="#000" stroke-width="0.1" textLength="50" lengthAdjust="spacingAndGlyphs">1907.52</text>
<text x="224.8" y="21" font-size="14.5" fill="#000" stroke="#000" stroke-width="0.1" textLength="50" lengthAdjust="spacingAndGlyphs">1904.95</text>
<text x="280.9" y="21" font-size="14.5" fill="#000" stroke="#000" stroke-width="0.1" textLength="50" lengthAdjust="spacingAndGlyphs">1907.50</text>
<text x="1460" y="19" font-size="14.5" fill="#000" stroke="#000" stroke-width="0.1" textLength="51" lengthAdjust="spacingAndGlyphs">1948.40</text>
<text x="1460" y="84" font-size="14.5" fill="#000" stroke="#000" stroke-width="0.1" textLength="51" lengthAdjust="spacingAndGlyphs">1943.50</text>
<text x="1460" y="149" font-size="14.5" fill="#000" stroke="#000" stroke-width="0.1" textLength="51" lengthAdjust="spacingAndGlyphs">1938.55</text>
<text x="1460" y="214" font-size="14.5" fill="#000" stroke="#000" stroke-width="0.1" textLength="51" lengthAdjust="spacingAndGlyphs">1933.60</text>
<text x="1460" y="279" font-size="14.5" fill="#000" stroke="#000" stroke-width="0.1" textLength="51" lengthAdjust="spacingAndGlyphs">1928.70</text>
<text x="1460" y="344" font-size="14.5" fill="#000" stroke="#000" stroke-width="0.1" textLength="51" lengthAdjust="spacingAndGlyphs">1923.75</text>
<text x="1460" y="409" font-size="14.5" fill="#000" stroke="#000" stroke-width="0.1" textLength="51" lengthAdjust="spacingAndGlyphs">1918.80</text>
<text x="1460" y="474" font-size="14.5" fill="#000" stroke="#000" stroke-width="0.1" textLength="51" lengthAdjust="spacingAndGlyphs">1913.90</text>
<text x="1460" y="539" font-size="14.5" fill="#000" stroke="#000" stroke-width="0.1" textLength="51" lengthAdjust="spacingAndGlyphs">1908.95</text>
<text x="1460" y="604" font-size="14.5" fill="#000" stroke="#000" stroke-width="0.1" textLength="51" lengthAdjust="spacingAndGlyphs">1904.00</text>
<rect x="1454" y="381" width="62" height="17" fill="#000" shape-rendering="crispEdges"/>
<text x="1460" y="395" font-size="14.5" fill="#fff" stroke="#fff" stroke-width="0.1" textLength="51" lengthAdjust="spacingAndGlyphs">1920.05</text>
<rect x="1454" y="474" width="62" height="17" fill="#000" shape-rendering="crispEdges"/>
<text x="1460" y="488" font-size="14.5" fill="#fff" stroke="#fff" stroke-width="0.1" textLength="51" lengthAdjust="spacingAndGlyphs">1913.00</text>
<rect x="1454" y="544" width="62" height="17" fill="#000" shape-rendering="crispEdges"/>
<text x="1460" y="558" font-size="14.5" fill="#fff" stroke="#fff" stroke-width="0.1" textLength="51" lengthAdjust="spacingAndGlyphs">1907.50</text>
<text x="1456.3" y="651" font-size="14.5" fill="#000" stroke="#000" stroke-width="0.1" textLength="34.5" lengthAdjust="spacingAndGlyphs">2.291</text>
<text x="1456.3" y="696" font-size="14.5" fill="#000" stroke="#000" stroke-width="0.1" textLength="26.6" lengthAdjust="spacingAndGlyphs">0.00</text>
<text x="1456.3" y="780" font-size="14.5" fill="#000" stroke="#000" stroke-width="0.1" textLength="40.3" lengthAdjust="spacingAndGlyphs">-4.042</text>
<text x="9.4" y="653" font-size="14.5" fill="#000" stroke="#000" stroke-width="0.1" textLength="183.6" lengthAdjust="spacingAndGlyphs">MACD(12,26,9) -1.827 -1.635</text>
<text x="5" y="802" font-size="14.5" fill="#000" stroke="#000" stroke-width="0.1" textLength="71" lengthAdjust="spacingAndGlyphs">4 Aug 2023</text>
<text x="133" y="802" font-size="14.5" fill="#000" stroke="#000" stroke-width="0.1" textLength="76" lengthAdjust="spacingAndGlyphs">7 Aug 08:00</text>
<text x="261" y="802" font-size="14.5" fill="#000" stroke="#000" stroke-width="0.1" textLength="76.5" lengthAdjust="spacingAndGlyphs">8 Aug 01:00</text>
<text x="389" y="802" font-size="14.5" fill="#000" stroke="#000" stroke-width="0.1" textLength="76.3" lengthAdjust="spacingAndGlyphs">8 Aug 17:00</text>
<text x="517" y="802" font-size="14.5" fill="#000" stroke="#000" stroke-width="0.1" textLength="76.3" lengthAdjust="spacingAndGlyphs">9 Aug 10:00</text>
<text x="645" y="802" font-size="14.5" fill="#000" stroke="#000" stroke-width="0.1" textLength="84" lengthAdjust="spacingAndGlyphs">10 Aug 03:00</text>
<text x="773" y="802" font-size="14.5" fill="#000" stroke="#000" stroke-width="0.1" textLength="84" lengthAdjust="spacingAndGlyphs">10 Aug 19:00</text>
<text x="901" y="802" font-size="14.5" fill="#000" stroke="#000" stroke-width="0.1" textLength="84" lengthAdjust="spacingAndGlyphs">11 Aug 12:00</text>
<text x="1029" y="802" font-size="14.5" fill="#000" stroke="#000" stroke-width="0.1" textLength="84" lengthAdjust="spacingAndGlyphs">14 Aug 08:00</text>
<line x1="1141.5" y1="482.5" x2="1181" y2="654" stroke="#ff0000" stroke-width="5.5" stroke-linecap="round"/>
<polygon points="1168.5,655 1192.5,649.5 1188.5,687" fill="#ff0000"/>
</svg></body></html>
